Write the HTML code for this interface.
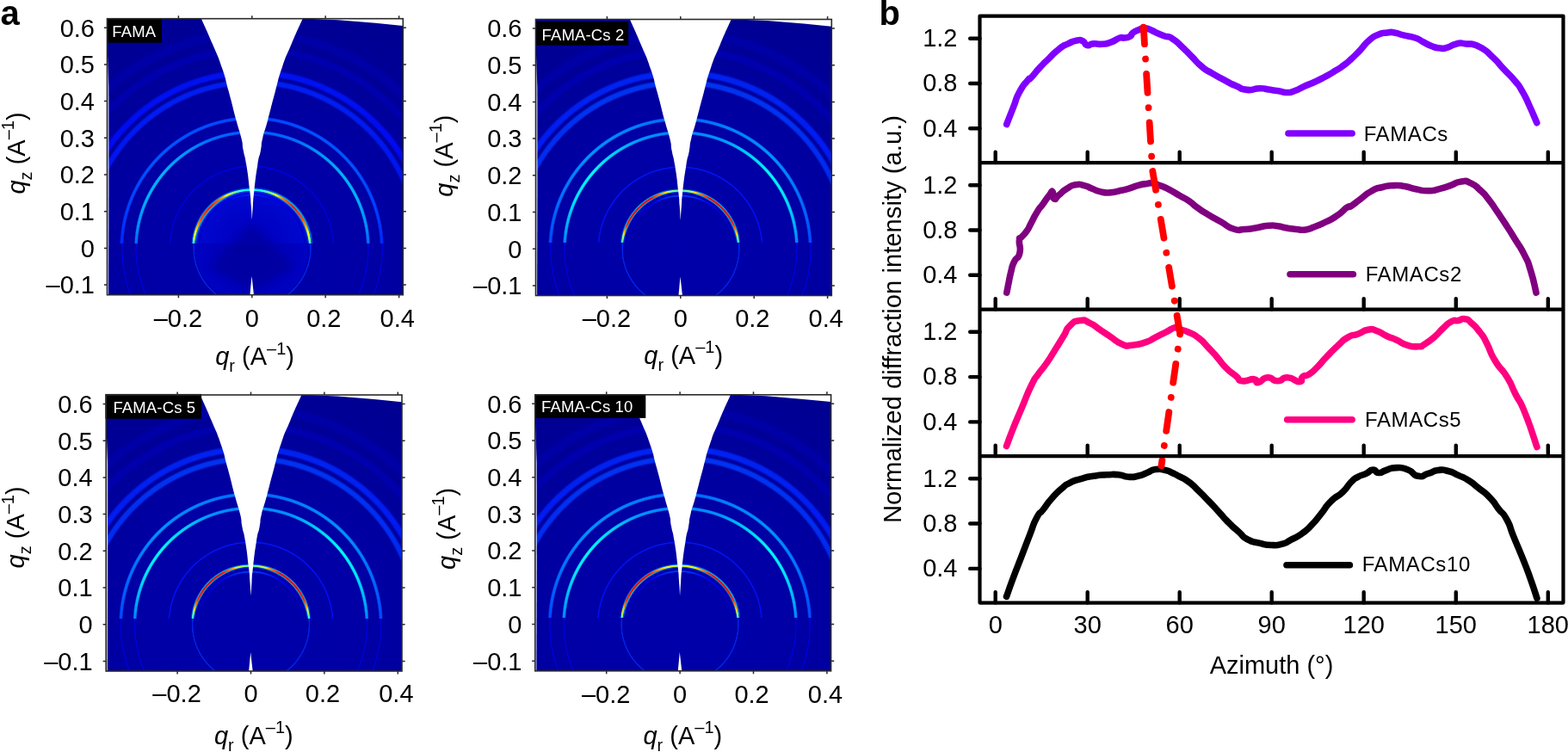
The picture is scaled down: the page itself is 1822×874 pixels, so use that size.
<!DOCTYPE html><html><head><meta charset="utf-8"><title>GIWAXS figure</title><style>html,body{margin:0;padding:0;background:#fff}body{width:1822px;height:874px;position:relative;overflow:hidden;font-family:"Liberation Sans", Arial, Helvetica, sans-serif}svg text{font-family:"Liberation Sans", Arial, Helvetica, sans-serif}</style></head><body>
<div style="position:absolute;left:124.50px;top:21.70px;width:343.80px;height:321.00px;overflow:hidden;background:radial-gradient(circle at 168.30px 266.70px,#0000aa 0px,#0000a6 120px,#00009f 190px,#000097 250px,#00008f 320px)">
<div style="position:absolute;left:0;top:0;width:343.80px;height:261.50px;overflow:hidden">
<div style="position:absolute;left:96.30px;top:194.70px;width:144.00px;height:144.00px;border-radius:50%;background:radial-gradient(circle at center,#0000bc 0px,#0002c4 30px,#0006cc 55px,#0008d0 64px,rgba(0,8,200,0) 68px)"></div>
<div style="position:absolute;left:-89.99px;top:8.41px;width:516.59px;height:516.59px;background:conic-gradient(from 0deg,#0000b3 0deg,#0000b3 5deg,#0000b3 10deg,#0000b3 15deg,#0000b3 20deg,#0000b3 25deg,#0000b3 30deg,#0000b2 35deg,#0000b1 40deg,#0000b0 45deg,#0000af 50deg,#0000ae 55deg,#0000ad 60deg,#0000ab 65deg,#0000a8 70deg,#0000a6 75deg,#0000a3 80deg,#0000a1 85deg,#00009e 90deg,#00009e 180deg,#00009e 270deg,#0000a1 275deg,#0000a3 280deg,#0000a6 285deg,#0000a8 290deg,#0000ab 295deg,#0000ad 300deg,#0000ae 305deg,#0000af 310deg,#0000b0 315deg,#0000b1 320deg,#0000b2 325deg,#0000b3 330deg,#0000b3 335deg,#0000b3 340deg,#0000b3 345deg,#0000b3 350deg,#0000b3 355deg,#0000b3 360deg);-webkit-mask-image:radial-gradient(circle at center, transparent 243.29px, #000 247.19px, #000 252.39px, transparent 256.29px);mask-image:radial-gradient(circle at center, transparent 243.29px, #000 247.19px, #000 252.39px, transparent 256.29px);opacity:0.60"></div>
<div style="position:absolute;left:-69.78px;top:28.62px;width:476.16px;height:476.16px;background:conic-gradient(from 0deg,#0000bd 0deg,#0000bd 5deg,#0000bd 10deg,#0000bd 15deg,#0000bd 20deg,#0000bd 25deg,#0000bd 30deg,#0000bc 35deg,#0000bb 40deg,#0000ba 45deg,#0000b9 50deg,#0000b8 55deg,#0000b8 60deg,#0000b5 65deg,#0000b3 70deg,#0000b0 75deg,#0000ad 80deg,#0000ab 85deg,#0000a8 90deg,#0000a8 180deg,#0000a8 270deg,#0000ab 275deg,#0000ad 280deg,#0000b0 285deg,#0000b3 290deg,#0000b5 295deg,#0000b8 300deg,#0000b8 305deg,#0000b9 310deg,#0000ba 315deg,#0000bb 320deg,#0000bc 325deg,#0000bd 330deg,#0000bd 335deg,#0000bd 340deg,#0000bd 345deg,#0000bd 350deg,#0000bd 355deg,#0000bd 360deg);-webkit-mask-image:radial-gradient(circle at center, transparent 225.08px, #000 228.33px, #000 232.83px, transparent 236.08px);mask-image:radial-gradient(circle at center, transparent 225.08px, #000 228.33px, #000 232.83px, transparent 236.08px);opacity:0.60"></div>
<div style="position:absolute;left:-42.51px;top:55.89px;width:421.61px;height:421.61px;background:conic-gradient(from 0deg,#0014ff 0deg,#0014ff 5deg,#0014ff 10deg,#0014ff 15deg,#0014ff 20deg,#0014ff 25deg,#0014ff 30deg,#0013ff 35deg,#0011ff 40deg,#000fff 45deg,#000eff 50deg,#000cff 55deg,#000aff 60deg,#0006ff 65deg,#0002ff 70deg,#0000fc 75deg,#0000f8 80deg,#0000f4 85deg,#0000f0 90deg,#0000f0 180deg,#0000f0 270deg,#0000f4 275deg,#0000f8 280deg,#0000fc 285deg,#0002ff 290deg,#0006ff 295deg,#000aff 300deg,#000cff 305deg,#000eff 310deg,#000fff 315deg,#0011ff 320deg,#0013ff 325deg,#0014ff 330deg,#0014ff 335deg,#0014ff 340deg,#0014ff 345deg,#0014ff 350deg,#0014ff 355deg,#0014ff 360deg);-webkit-mask-image:radial-gradient(circle at center, transparent 199.41px, #000 202.01px, #000 206.21px, transparent 208.81px);mask-image:radial-gradient(circle at center, transparent 199.41px, #000 202.01px, #000 206.21px, transparent 208.81px);opacity:0.85"></div>
<div style="position:absolute;left:-30.90px;top:67.50px;width:398.41px;height:398.41px;background:conic-gradient(from 0deg,#0024ff 0deg,#0024ff 5deg,#0024ff 10deg,#0024ff 15deg,#0024ff 20deg,#0024ff 25deg,#0024ff 30deg,#0022ff 35deg,#0020ff 40deg,#001fff 45deg,#001dff 50deg,#001bff 55deg,#001aff 60deg,#0016ff 65deg,#0013ff 70deg,#000fff 75deg,#000cff 80deg,#0008ff 85deg,#0005ff 90deg,#0005ff 180deg,#0005ff 270deg,#0008ff 275deg,#000cff 280deg,#000fff 285deg,#0013ff 290deg,#0016ff 295deg,#001aff 300deg,#001bff 305deg,#001dff 310deg,#001fff 315deg,#0020ff 320deg,#0022ff 325deg,#0024ff 330deg,#0024ff 335deg,#0024ff 340deg,#0024ff 345deg,#0024ff 350deg,#0024ff 355deg,#0024ff 360deg);-webkit-mask-image:radial-gradient(circle at center, transparent 188.80px, #000 191.14px, #000 194.86px, transparent 197.20px);mask-image:radial-gradient(circle at center, transparent 188.80px, #000 191.14px, #000 194.86px, transparent 197.20px);opacity:0.85"></div>
<div style="position:absolute;left:12.64px;top:111.04px;width:311.32px;height:311.32px;background:conic-gradient(from 0deg,#0042ff 0deg,#0045ff 5deg,#0047ff 10deg,#004aff 15deg,#004dff 20deg,#004fff 25deg,#0051ff 30deg,#0053ff 35deg,#0055ff 40deg,#0057ff 45deg,#0053ff 50deg,#004fff 55deg,#004aff 60deg,#0046ff 65deg,#0042ff 70deg,#003bff 75deg,#0033ff 80deg,#002bff 85deg,#0024ff 90deg,#0024ff 180deg,#0024ff 270deg,#002bff 275deg,#0033ff 280deg,#003bff 285deg,#0042ff 290deg,#0046ff 295deg,#004aff 300deg,#004fff 305deg,#0053ff 310deg,#0057ff 315deg,#0055ff 320deg,#0053ff 325deg,#0051ff 330deg,#004fff 335deg,#004dff 340deg,#004aff 345deg,#0047ff 350deg,#0045ff 355deg,#0042ff 360deg);-webkit-mask-image:radial-gradient(circle at center, transparent 148.66px, #000 150.09px, #000 152.23px, transparent 153.66px);mask-image:radial-gradient(circle at center, transparent 148.66px, #000 150.09px, #000 152.23px, transparent 153.66px);opacity:1.00"></div>
<div style="position:absolute;left:29.02px;top:127.42px;width:278.56px;height:278.56px;background:conic-gradient(from 0deg,#0057ff 0deg,#005cff 5deg,#0061ff 10deg,#0066ff 15deg,#006bff 20deg,#0079ff 25deg,#0086ff 30deg,#0094ff 35deg,#009eff 40deg,#00a8ff 45deg,#00b3ff 50deg,#00b3ff 55deg,#00b3ff 60deg,#00b3ff 65deg,#00a5ff 70deg,#0097ff 75deg,#008aff 80deg,#0075ff 85deg,#0061ff 90deg,#0061ff 180deg,#0061ff 270deg,#0075ff 275deg,#008aff 280deg,#0097ff 285deg,#00a5ff 290deg,#00b3ff 295deg,#00b3ff 300deg,#00b3ff 305deg,#00b3ff 310deg,#00a8ff 315deg,#009eff 320deg,#0094ff 325deg,#0086ff 330deg,#0079ff 335deg,#006bff 340deg,#0066ff 345deg,#0061ff 350deg,#005cff 355deg,#0057ff 360deg);-webkit-mask-image:radial-gradient(circle at center, transparent 132.58px, #000 133.88px, #000 135.98px, transparent 137.28px);mask-image:radial-gradient(circle at center, transparent 132.58px, #000 133.88px, #000 135.98px, transparent 137.28px);opacity:1.00"></div>
<div style="position:absolute;left:69.93px;top:168.33px;width:196.74px;height:196.74px;background:conic-gradient(from 0deg,#0000fa 0deg,#0000f9 5deg,#0000f8 10deg,#0000f7 15deg,#0000f5 20deg,#0000f4 25deg,#0000f3 30deg,#0000f2 35deg,#0000f1 40deg,#0000f0 45deg,#0000ef 50deg,#0000ed 55deg,#0000ec 60deg,#0000eb 65deg,#0000ea 70deg,#0000e9 75deg,#0000e8 80deg,#0000e7 85deg,#0000e6 90deg,#0000e6 180deg,#0000e6 270deg,#0000e7 275deg,#0000e8 280deg,#0000e9 285deg,#0000ea 290deg,#0000eb 295deg,#0000ec 300deg,#0000ed 305deg,#0000ef 310deg,#0000f0 315deg,#0000f1 320deg,#0000f2 325deg,#0000f3 330deg,#0000f4 335deg,#0000f5 340deg,#0000f7 345deg,#0000f8 350deg,#0000f9 355deg,#0000fa 360deg);-webkit-mask-image:radial-gradient(circle at center, transparent 94.07px, #000 94.85px, #000 95.59px, transparent 96.37px);mask-image:radial-gradient(circle at center, transparent 94.07px, #000 94.85px, #000 95.59px, transparent 96.37px);opacity:0.75"></div>
<div style="position:absolute;left:103.41px;top:201.81px;width:129.78px;height:129.78px;background:conic-gradient(from 0deg,#0024ff 0deg,#001cff 5deg,#0014ff 10deg,#000dff 15deg,#0005ff 20deg,#0000fc 25deg,#0000f3 30deg,#0000eb 35deg,#0000e2 40deg,#0000da 45deg,#0000d1 50deg,#0000cf 55deg,#0000cc 60deg,#0000c9 65deg,#0000c7 70deg,#0000c4 75deg,#0000c2 80deg,#0000bf 85deg,#0000bd 90deg,#0000bd 180deg,#0000bd 270deg,#0000bf 275deg,#0000c2 280deg,#0000c4 285deg,#0000c7 290deg,#0000c9 295deg,#0000cc 300deg,#0000cf 305deg,#0000d1 310deg,#0000da 315deg,#0000e2 320deg,#0000eb 325deg,#0000f3 330deg,#0000fc 335deg,#0005ff 340deg,#000dff 345deg,#0014ff 350deg,#001cff 355deg,#0024ff 360deg);-webkit-mask-image:radial-gradient(circle at center, transparent 60.09px, #000 61.00px, #000 61.98px, transparent 62.89px);mask-image:radial-gradient(circle at center, transparent 60.09px, #000 61.00px, #000 61.98px, transparent 62.89px);opacity:0.90"></div>
<div style="position:absolute;left:95.01px;top:193.41px;width:146.59px;height:146.59px;background:conic-gradient(from 0deg,#0045ff 0deg,#004dff 5deg,#0056ff 10deg,#0068ff 15deg,#0080ff 20deg,#009fff 25deg,#00c2ff 30deg,#00d7ff 35deg,#00e3ff 40deg,#00efff 45deg,#00e9ff 50deg,#00e3ff 55deg,#00ddff 60deg,#00c9ff 65deg,#00b4ff 70deg,#009dff 75deg,#0087ff 80deg,#0061ff 85deg,#0045ff 90deg,#0045ff 180deg,#0045ff 270deg,#0061ff 275deg,#0087ff 280deg,#009dff 285deg,#00b4ff 290deg,#00c9ff 295deg,#00ddff 300deg,#00e3ff 305deg,#00e9ff 310deg,#00efff 315deg,#00e3ff 320deg,#00d7ff 325deg,#00c2ff 330deg,#009fff 335deg,#0080ff 340deg,#0068ff 345deg,#0056ff 350deg,#004dff 355deg,#0045ff 360deg);-webkit-mask-image:radial-gradient(circle at center, transparent 64.49px, #000 66.18px, #000 69.60px, transparent 71.29px);mask-image:radial-gradient(circle at center, transparent 64.49px, #000 66.18px, #000 69.60px, transparent 71.29px);opacity:0.75"></div>
<div style="position:absolute;left:96.81px;top:195.21px;width:142.99px;height:142.99px;background:conic-gradient(from 0deg,#00f0ff 0deg,#0afff5 5deg,#24ffdb 10deg,#59ffa6 15deg,#a0ff5f 20deg,#faff05 25deg,#ff9e00 30deg,#ff6000 35deg,#ff3d00 40deg,#ff1a00 45deg,#ff2a00 50deg,#ff3c00 55deg,#ff4c00 60deg,#ff8a00 65deg,#ffc700 70deg,#f5ff0a 75deg,#b3ff4c 80deg,#44ffbb 85deg,#00f0ff 90deg,#00f0ff 180deg,#00f0ff 270deg,#44ffbb 275deg,#b3ff4c 280deg,#f5ff0a 285deg,#ffc700 290deg,#ff8a00 295deg,#ff4c00 300deg,#ff3c00 305deg,#ff2a00 310deg,#ff1a00 315deg,#ff3d00 320deg,#ff6000 325deg,#ff9e00 330deg,#faff05 335deg,#a0ff5f 340deg,#59ffa6 345deg,#24ffdb 350deg,#0afff5 355deg,#00f0ff 360deg);-webkit-mask-image:radial-gradient(circle at center, transparent 66.29px, #000 67.07px, #000 68.71px, transparent 69.49px);mask-image:radial-gradient(circle at center, transparent 66.29px, #000 67.07px, #000 68.71px, transparent 69.49px);opacity:1.00"></div>
</div>
<div style="position:absolute;left:0;top:261.50px;width:343.80px;height:59.50px;overflow:hidden">
<div style="position:absolute;left:96.30px;top:-66.80px;width:144.00px;height:144.00px;border-radius:50%;background:radial-gradient(circle at center,#0000b6 0px,#0000ba 40px,#0002c2 64px,rgba(0,0,190,0) 68px)"></div>
<div style="position:absolute;left:97.41px;top:-65.69px;width:141.79px;height:141.79px;background:#002eff;-webkit-mask-image:radial-gradient(circle at center, transparent 66.89px, #000 67.54px, #000 68.24px, transparent 68.89px);mask-image:radial-gradient(circle at center, transparent 66.89px, #000 67.54px, #000 68.24px, transparent 68.89px);opacity:0.80"></div>
<div style="position:absolute;left:30.42px;top:-132.68px;width:275.76px;height:275.76px;background:#0000fa;-webkit-mask-image:radial-gradient(circle at center, transparent 133.98px, #000 134.63px, #000 135.23px, transparent 135.88px);mask-image:radial-gradient(circle at center, transparent 133.98px, #000 134.63px, #000 135.23px, transparent 135.88px);opacity:0.70"></div>
<div style="position:absolute;left:14.19px;top:-148.91px;width:308.22px;height:308.22px;background:#0000fa;-webkit-mask-image:radial-gradient(circle at center, transparent 150.21px, #000 150.86px, #000 151.46px, transparent 152.11px);mask-image:radial-gradient(circle at center, transparent 150.21px, #000 150.86px, #000 151.46px, transparent 152.11px);opacity:0.70"></div>
</div>
</div>
<div style="position:absolute;left:622.50px;top:22.50px;width:343.80px;height:321.00px;overflow:hidden;background:radial-gradient(circle at 168.30px 266.70px,#0000aa 0px,#0000a6 120px,#00009f 190px,#000097 250px,#00008f 320px)">
<div style="position:absolute;left:0;top:0;width:343.80px;height:259.70px;overflow:hidden">
<div style="position:absolute;left:-89.99px;top:8.41px;width:516.59px;height:516.59px;background:conic-gradient(from 0deg,#0000b3 0deg,#0000b3 5deg,#0000b3 10deg,#0000b3 15deg,#0000b3 20deg,#0000b3 25deg,#0000b3 30deg,#0000b2 35deg,#0000b1 40deg,#0000b0 45deg,#0000af 50deg,#0000ae 55deg,#0000ad 60deg,#0000ab 65deg,#0000a8 70deg,#0000a6 75deg,#0000a3 80deg,#0000a1 85deg,#00009e 90deg,#00009e 180deg,#00009e 270deg,#0000a1 275deg,#0000a3 280deg,#0000a6 285deg,#0000a8 290deg,#0000ab 295deg,#0000ad 300deg,#0000ae 305deg,#0000af 310deg,#0000b0 315deg,#0000b1 320deg,#0000b2 325deg,#0000b3 330deg,#0000b3 335deg,#0000b3 340deg,#0000b3 345deg,#0000b3 350deg,#0000b3 355deg,#0000b3 360deg);-webkit-mask-image:radial-gradient(circle at center, transparent 243.29px, #000 247.19px, #000 252.39px, transparent 256.29px);mask-image:radial-gradient(circle at center, transparent 243.29px, #000 247.19px, #000 252.39px, transparent 256.29px);opacity:0.60"></div>
<div style="position:absolute;left:-69.78px;top:28.62px;width:476.16px;height:476.16px;background:conic-gradient(from 0deg,#0000bd 0deg,#0000bd 5deg,#0000bd 10deg,#0000bd 15deg,#0000bd 20deg,#0000bd 25deg,#0000bd 30deg,#0000bc 35deg,#0000bb 40deg,#0000ba 45deg,#0000b9 50deg,#0000b8 55deg,#0000b8 60deg,#0000b5 65deg,#0000b3 70deg,#0000b0 75deg,#0000ad 80deg,#0000ab 85deg,#0000a8 90deg,#0000a8 180deg,#0000a8 270deg,#0000ab 275deg,#0000ad 280deg,#0000b0 285deg,#0000b3 290deg,#0000b5 295deg,#0000b8 300deg,#0000b8 305deg,#0000b9 310deg,#0000ba 315deg,#0000bb 320deg,#0000bc 325deg,#0000bd 330deg,#0000bd 335deg,#0000bd 340deg,#0000bd 345deg,#0000bd 350deg,#0000bd 355deg,#0000bd 360deg);-webkit-mask-image:radial-gradient(circle at center, transparent 225.08px, #000 228.33px, #000 232.83px, transparent 236.08px);mask-image:radial-gradient(circle at center, transparent 225.08px, #000 228.33px, #000 232.83px, transparent 236.08px);opacity:0.60"></div>
<div style="position:absolute;left:-42.51px;top:55.89px;width:421.61px;height:421.61px;background:conic-gradient(from 0deg,#0029ff 0deg,#0029ff 5deg,#0029ff 10deg,#0029ff 15deg,#0029ff 20deg,#0029ff 25deg,#0029ff 30deg,#0027ff 35deg,#0025ff 40deg,#0024ff 45deg,#0022ff 50deg,#0020ff 55deg,#001fff 60deg,#001aff 65deg,#0016ff 70deg,#0012ff 75deg,#000eff 80deg,#0009ff 85deg,#0005ff 90deg,#0005ff 180deg,#0005ff 270deg,#0009ff 275deg,#000eff 280deg,#0012ff 285deg,#0016ff 290deg,#001aff 295deg,#001fff 300deg,#0020ff 305deg,#0022ff 310deg,#0024ff 315deg,#0025ff 320deg,#0027ff 325deg,#0029ff 330deg,#0029ff 335deg,#0029ff 340deg,#0029ff 345deg,#0029ff 350deg,#0029ff 355deg,#0029ff 360deg);-webkit-mask-image:radial-gradient(circle at center, transparent 199.41px, #000 202.01px, #000 206.21px, transparent 208.81px);mask-image:radial-gradient(circle at center, transparent 199.41px, #000 202.01px, #000 206.21px, transparent 208.81px);opacity:0.85"></div>
<div style="position:absolute;left:-30.90px;top:67.50px;width:398.41px;height:398.41px;background:conic-gradient(from 0deg,#003dff 0deg,#003dff 5deg,#003dff 10deg,#003dff 15deg,#003dff 20deg,#003dff 25deg,#003dff 30deg,#003cff 35deg,#003aff 40deg,#0038ff 45deg,#0036ff 50deg,#0035ff 55deg,#0033ff 60deg,#002fff 65deg,#002aff 70deg,#0026ff 75deg,#0022ff 80deg,#001eff 85deg,#001aff 90deg,#001aff 180deg,#001aff 270deg,#001eff 275deg,#0022ff 280deg,#0026ff 285deg,#002aff 290deg,#002fff 295deg,#0033ff 300deg,#0035ff 305deg,#0036ff 310deg,#0038ff 315deg,#003aff 320deg,#003cff 325deg,#003dff 330deg,#003dff 335deg,#003dff 340deg,#003dff 345deg,#003dff 350deg,#003dff 355deg,#003dff 360deg);-webkit-mask-image:radial-gradient(circle at center, transparent 188.80px, #000 191.14px, #000 194.86px, transparent 197.20px);mask-image:radial-gradient(circle at center, transparent 188.80px, #000 191.14px, #000 194.86px, transparent 197.20px);opacity:0.85"></div>
<div style="position:absolute;left:12.64px;top:111.04px;width:311.32px;height:311.32px;background:conic-gradient(from 0deg,#0061ff 0deg,#0069ff 5deg,#0070ff 10deg,#0078ff 15deg,#0080ff 20deg,#0084ff 25deg,#0088ff 30deg,#008cff 35deg,#0090ff 40deg,#0094ff 45deg,#008cff 50deg,#0084ff 55deg,#007bff 60deg,#0073ff 65deg,#006bff 70deg,#0061ff 75deg,#0057ff 80deg,#004dff 85deg,#0042ff 90deg,#0042ff 180deg,#0042ff 270deg,#004dff 275deg,#0057ff 280deg,#0061ff 285deg,#006bff 290deg,#0073ff 295deg,#007bff 300deg,#0084ff 305deg,#008cff 310deg,#0094ff 315deg,#0090ff 320deg,#008cff 325deg,#0088ff 330deg,#0084ff 335deg,#0080ff 340deg,#0078ff 345deg,#0070ff 350deg,#0069ff 355deg,#0061ff 360deg);-webkit-mask-image:radial-gradient(circle at center, transparent 148.66px, #000 150.09px, #000 152.23px, transparent 153.66px);mask-image:radial-gradient(circle at center, transparent 148.66px, #000 150.09px, #000 152.23px, transparent 153.66px);opacity:1.00"></div>
<div style="position:absolute;left:29.02px;top:127.42px;width:278.56px;height:278.56px;background:conic-gradient(from 0deg,#0080ff 0deg,#0085ff 5deg,#008aff 10deg,#008fff 15deg,#0094ff 20deg,#00a8ff 25deg,#00bdff 30deg,#00d1ff 35deg,#00dfff 40deg,#00ecff 45deg,#00faff 50deg,#00f3ff 55deg,#00ecff 60deg,#00e5ff 65deg,#00d1ff 70deg,#00bdff 75deg,#00a8ff 80deg,#008fff 85deg,#0075ff 90deg,#0075ff 180deg,#0075ff 270deg,#008fff 275deg,#00a8ff 280deg,#00bdff 285deg,#00d1ff 290deg,#00e5ff 295deg,#00ecff 300deg,#00f3ff 305deg,#00faff 310deg,#00ecff 315deg,#00dfff 320deg,#00d1ff 325deg,#00bdff 330deg,#00a8ff 335deg,#0094ff 340deg,#008fff 345deg,#008aff 350deg,#0085ff 355deg,#0080ff 360deg);-webkit-mask-image:radial-gradient(circle at center, transparent 132.58px, #000 133.88px, #000 135.98px, transparent 137.28px);mask-image:radial-gradient(circle at center, transparent 132.58px, #000 133.88px, #000 135.98px, transparent 137.28px);opacity:1.00"></div>
<div style="position:absolute;left:69.93px;top:168.33px;width:196.74px;height:196.74px;background:conic-gradient(from 0deg,#001aff 0deg,#0019ff 5deg,#0018ff 10deg,#0018ff 15deg,#0017ff 20deg,#0017ff 25deg,#0016ff 30deg,#0016ff 35deg,#0015ff 40deg,#0014ff 45deg,#0014ff 50deg,#0013ff 55deg,#0013ff 60deg,#0012ff 65deg,#0012ff 70deg,#0011ff 75deg,#0010ff 80deg,#0010ff 85deg,#000fff 90deg,#000fff 180deg,#000fff 270deg,#0010ff 275deg,#0010ff 280deg,#0011ff 285deg,#0012ff 290deg,#0012ff 295deg,#0013ff 300deg,#0013ff 305deg,#0014ff 310deg,#0014ff 315deg,#0015ff 320deg,#0016ff 325deg,#0016ff 330deg,#0017ff 335deg,#0017ff 340deg,#0018ff 345deg,#0018ff 350deg,#0019ff 355deg,#001aff 360deg);-webkit-mask-image:radial-gradient(circle at center, transparent 94.07px, #000 94.85px, #000 95.59px, transparent 96.37px);mask-image:radial-gradient(circle at center, transparent 94.07px, #000 94.85px, #000 95.59px, transparent 96.37px);opacity:0.90"></div>
<div style="position:absolute;left:103.41px;top:201.81px;width:129.78px;height:129.78px;background:conic-gradient(from 0deg,#0042ff 0deg,#003cff 5deg,#0035ff 10deg,#002eff 15deg,#0020ff 20deg,#0013ff 25deg,#0005ff 30deg,#0000f7 35deg,#0000eb 40deg,#0000de 45deg,#0000d1 50deg,#0000cd 55deg,#0000c9 60deg,#0000c6 65deg,#0000c2 70deg,#0000be 75deg,#0000ba 80deg,#0000b6 85deg,#0000b3 90deg,#0000b3 180deg,#0000b3 270deg,#0000b6 275deg,#0000ba 280deg,#0000be 285deg,#0000c2 290deg,#0000c6 295deg,#0000c9 300deg,#0000cd 305deg,#0000d1 310deg,#0000de 315deg,#0000eb 320deg,#0000f7 325deg,#0005ff 330deg,#0013ff 335deg,#0020ff 340deg,#002eff 345deg,#0035ff 350deg,#003cff 355deg,#0042ff 360deg);-webkit-mask-image:radial-gradient(circle at center, transparent 60.09px, #000 61.00px, #000 61.98px, transparent 62.89px);mask-image:radial-gradient(circle at center, transparent 60.09px, #000 61.00px, #000 61.98px, transparent 62.89px);opacity:0.90"></div>
<div style="position:absolute;left:95.71px;top:194.11px;width:145.19px;height:145.19px;background:conic-gradient(from 0deg,#005aff 0deg,#0070ff 5deg,#0087ff 10deg,#00abff 15deg,#00caff 20deg,#00e0ff 25deg,#00f6ff 30deg,#00f8ff 35deg,#00faff 40deg,#00fdff 45deg,#00f8ff 50deg,#00f4ff 55deg,#00f0ff 60deg,#00ebff 65deg,#00ccff 70deg,#00a9ff 75deg,#0075ff 80deg,#0049ff 85deg,#003eff 90deg,#003eff 180deg,#003eff 270deg,#0049ff 275deg,#0075ff 280deg,#00a9ff 285deg,#00ccff 290deg,#00ebff 295deg,#00f0ff 300deg,#00f4ff 305deg,#00f8ff 310deg,#00fdff 315deg,#00faff 320deg,#00f8ff 325deg,#00f6ff 330deg,#00e0ff 335deg,#00caff 340deg,#00abff 345deg,#0087ff 350deg,#0070ff 355deg,#005aff 360deg);-webkit-mask-image:radial-gradient(circle at center, transparent 65.19px, #000 66.49px, #000 69.29px, transparent 70.59px);mask-image:radial-gradient(circle at center, transparent 65.19px, #000 66.49px, #000 69.29px, transparent 70.59px);opacity:0.75"></div>
<div style="position:absolute;left:96.96px;top:195.36px;width:142.69px;height:142.69px;background:conic-gradient(from 0deg,#2effd1 0deg,#70ff8f 5deg,#b3ff4c 10deg,#ffdf00 15deg,#ff8500 20deg,#ff4500 25deg,#ff0500 30deg,#fd0000 35deg,#f70000 40deg,#f00000 45deg,#fc0000 50deg,#ff0a00 55deg,#ff1700 60deg,#ff2400 65deg,#ff7e00 70deg,#ffe500 75deg,#80ff80 80deg,#00fdff 85deg,#00dbff 90deg,#00dbff 180deg,#00dbff 270deg,#00fdff 275deg,#80ff80 280deg,#ffe500 285deg,#ff7e00 290deg,#ff2400 295deg,#ff1700 300deg,#ff0a00 305deg,#fc0000 310deg,#f00000 315deg,#f70000 320deg,#fd0000 325deg,#ff0500 330deg,#ff4500 335deg,#ff8500 340deg,#ffdf00 345deg,#b3ff4c 350deg,#70ff8f 355deg,#2effd1 360deg);-webkit-mask-image:radial-gradient(circle at center, transparent 66.44px, #000 67.22px, #000 68.56px, transparent 69.34px);mask-image:radial-gradient(circle at center, transparent 66.44px, #000 67.22px, #000 68.56px, transparent 69.34px);opacity:1.00"></div>
</div>
<div style="position:absolute;left:0;top:259.70px;width:343.80px;height:61.30px;overflow:hidden">
<div style="position:absolute;left:97.41px;top:-63.89px;width:141.79px;height:141.79px;background:#002eff;-webkit-mask-image:radial-gradient(circle at center, transparent 66.89px, #000 67.54px, #000 68.24px, transparent 68.89px);mask-image:radial-gradient(circle at center, transparent 66.89px, #000 67.54px, #000 68.24px, transparent 68.89px);opacity:0.80"></div>
<div style="position:absolute;left:30.42px;top:-130.88px;width:275.76px;height:275.76px;background:#0000fa;-webkit-mask-image:radial-gradient(circle at center, transparent 133.98px, #000 134.63px, #000 135.23px, transparent 135.88px);mask-image:radial-gradient(circle at center, transparent 133.98px, #000 134.63px, #000 135.23px, transparent 135.88px);opacity:0.70"></div>
<div style="position:absolute;left:14.19px;top:-147.11px;width:308.22px;height:308.22px;background:#0000fa;-webkit-mask-image:radial-gradient(circle at center, transparent 150.21px, #000 150.86px, #000 151.46px, transparent 152.11px);mask-image:radial-gradient(circle at center, transparent 150.21px, #000 150.86px, #000 151.46px, transparent 152.11px);opacity:0.70"></div>
</div>
</div>
<div style="position:absolute;left:123.20px;top:459.00px;width:343.80px;height:321.00px;overflow:hidden;background:radial-gradient(circle at 168.30px 266.70px,#0000aa 0px,#0000a6 120px,#00009f 190px,#000097 250px,#00008f 320px)">
<div style="position:absolute;left:0;top:0;width:343.80px;height:259.70px;overflow:hidden">
<div style="position:absolute;left:-89.99px;top:8.41px;width:516.59px;height:516.59px;background:conic-gradient(from 0deg,#0000b3 0deg,#0000b3 5deg,#0000b3 10deg,#0000b3 15deg,#0000b3 20deg,#0000b3 25deg,#0000b3 30deg,#0000b2 35deg,#0000b1 40deg,#0000b0 45deg,#0000af 50deg,#0000ae 55deg,#0000ad 60deg,#0000ab 65deg,#0000a8 70deg,#0000a6 75deg,#0000a3 80deg,#0000a1 85deg,#00009e 90deg,#00009e 180deg,#00009e 270deg,#0000a1 275deg,#0000a3 280deg,#0000a6 285deg,#0000a8 290deg,#0000ab 295deg,#0000ad 300deg,#0000ae 305deg,#0000af 310deg,#0000b0 315deg,#0000b1 320deg,#0000b2 325deg,#0000b3 330deg,#0000b3 335deg,#0000b3 340deg,#0000b3 345deg,#0000b3 350deg,#0000b3 355deg,#0000b3 360deg);-webkit-mask-image:radial-gradient(circle at center, transparent 243.29px, #000 247.19px, #000 252.39px, transparent 256.29px);mask-image:radial-gradient(circle at center, transparent 243.29px, #000 247.19px, #000 252.39px, transparent 256.29px);opacity:0.60"></div>
<div style="position:absolute;left:-69.78px;top:28.62px;width:476.16px;height:476.16px;background:conic-gradient(from 0deg,#0000bd 0deg,#0000bd 5deg,#0000bd 10deg,#0000bd 15deg,#0000bd 20deg,#0000bd 25deg,#0000bd 30deg,#0000bc 35deg,#0000bb 40deg,#0000ba 45deg,#0000b9 50deg,#0000b8 55deg,#0000b8 60deg,#0000b5 65deg,#0000b3 70deg,#0000b0 75deg,#0000ad 80deg,#0000ab 85deg,#0000a8 90deg,#0000a8 180deg,#0000a8 270deg,#0000ab 275deg,#0000ad 280deg,#0000b0 285deg,#0000b3 290deg,#0000b5 295deg,#0000b8 300deg,#0000b8 305deg,#0000b9 310deg,#0000ba 315deg,#0000bb 320deg,#0000bc 325deg,#0000bd 330deg,#0000bd 335deg,#0000bd 340deg,#0000bd 345deg,#0000bd 350deg,#0000bd 355deg,#0000bd 360deg);-webkit-mask-image:radial-gradient(circle at center, transparent 225.08px, #000 228.33px, #000 232.83px, transparent 236.08px);mask-image:radial-gradient(circle at center, transparent 225.08px, #000 228.33px, #000 232.83px, transparent 236.08px);opacity:0.60"></div>
<div style="position:absolute;left:-42.51px;top:55.89px;width:421.61px;height:421.61px;background:conic-gradient(from 0deg,#0029ff 0deg,#0029ff 5deg,#0029ff 10deg,#0029ff 15deg,#0029ff 20deg,#0029ff 25deg,#0029ff 30deg,#0027ff 35deg,#0025ff 40deg,#0024ff 45deg,#0022ff 50deg,#0020ff 55deg,#001fff 60deg,#001aff 65deg,#0016ff 70deg,#0012ff 75deg,#000eff 80deg,#0009ff 85deg,#0005ff 90deg,#0005ff 180deg,#0005ff 270deg,#0009ff 275deg,#000eff 280deg,#0012ff 285deg,#0016ff 290deg,#001aff 295deg,#001fff 300deg,#0020ff 305deg,#0022ff 310deg,#0024ff 315deg,#0025ff 320deg,#0027ff 325deg,#0029ff 330deg,#0029ff 335deg,#0029ff 340deg,#0029ff 345deg,#0029ff 350deg,#0029ff 355deg,#0029ff 360deg);-webkit-mask-image:radial-gradient(circle at center, transparent 199.41px, #000 202.01px, #000 206.21px, transparent 208.81px);mask-image:radial-gradient(circle at center, transparent 199.41px, #000 202.01px, #000 206.21px, transparent 208.81px);opacity:0.85"></div>
<div style="position:absolute;left:-30.90px;top:67.50px;width:398.41px;height:398.41px;background:conic-gradient(from 0deg,#003dff 0deg,#003dff 5deg,#003dff 10deg,#003dff 15deg,#003dff 20deg,#003dff 25deg,#003dff 30deg,#003cff 35deg,#003aff 40deg,#0038ff 45deg,#0036ff 50deg,#0035ff 55deg,#0033ff 60deg,#002fff 65deg,#002aff 70deg,#0026ff 75deg,#0022ff 80deg,#001eff 85deg,#001aff 90deg,#001aff 180deg,#001aff 270deg,#001eff 275deg,#0022ff 280deg,#0026ff 285deg,#002aff 290deg,#002fff 295deg,#0033ff 300deg,#0035ff 305deg,#0036ff 310deg,#0038ff 315deg,#003aff 320deg,#003cff 325deg,#003dff 330deg,#003dff 335deg,#003dff 340deg,#003dff 345deg,#003dff 350deg,#003dff 355deg,#003dff 360deg);-webkit-mask-image:radial-gradient(circle at center, transparent 188.80px, #000 191.14px, #000 194.86px, transparent 197.20px);mask-image:radial-gradient(circle at center, transparent 188.80px, #000 191.14px, #000 194.86px, transparent 197.20px);opacity:0.85"></div>
<div style="position:absolute;left:12.64px;top:111.04px;width:311.32px;height:311.32px;background:conic-gradient(from 0deg,#0061ff 0deg,#0069ff 5deg,#0070ff 10deg,#0078ff 15deg,#0080ff 20deg,#0084ff 25deg,#0088ff 30deg,#008cff 35deg,#0090ff 40deg,#0094ff 45deg,#008cff 50deg,#0084ff 55deg,#007bff 60deg,#0073ff 65deg,#006bff 70deg,#0061ff 75deg,#0057ff 80deg,#004dff 85deg,#0042ff 90deg,#0042ff 180deg,#0042ff 270deg,#004dff 275deg,#0057ff 280deg,#0061ff 285deg,#006bff 290deg,#0073ff 295deg,#007bff 300deg,#0084ff 305deg,#008cff 310deg,#0094ff 315deg,#0090ff 320deg,#008cff 325deg,#0088ff 330deg,#0084ff 335deg,#0080ff 340deg,#0078ff 345deg,#0070ff 350deg,#0069ff 355deg,#0061ff 360deg);-webkit-mask-image:radial-gradient(circle at center, transparent 148.66px, #000 150.09px, #000 152.23px, transparent 153.66px);mask-image:radial-gradient(circle at center, transparent 148.66px, #000 150.09px, #000 152.23px, transparent 153.66px);opacity:1.00"></div>
<div style="position:absolute;left:29.02px;top:127.42px;width:278.56px;height:278.56px;background:conic-gradient(from 0deg,#0080ff 0deg,#0085ff 5deg,#008aff 10deg,#008fff 15deg,#0094ff 20deg,#00a8ff 25deg,#00bdff 30deg,#00d1ff 35deg,#00dfff 40deg,#00ecff 45deg,#00faff 50deg,#00f3ff 55deg,#00ecff 60deg,#00e5ff 65deg,#00d1ff 70deg,#00bdff 75deg,#00a8ff 80deg,#008fff 85deg,#0075ff 90deg,#0075ff 180deg,#0075ff 270deg,#008fff 275deg,#00a8ff 280deg,#00bdff 285deg,#00d1ff 290deg,#00e5ff 295deg,#00ecff 300deg,#00f3ff 305deg,#00faff 310deg,#00ecff 315deg,#00dfff 320deg,#00d1ff 325deg,#00bdff 330deg,#00a8ff 335deg,#0094ff 340deg,#008fff 345deg,#008aff 350deg,#0085ff 355deg,#0080ff 360deg);-webkit-mask-image:radial-gradient(circle at center, transparent 132.58px, #000 133.88px, #000 135.98px, transparent 137.28px);mask-image:radial-gradient(circle at center, transparent 132.58px, #000 133.88px, #000 135.98px, transparent 137.28px);opacity:1.00"></div>
<div style="position:absolute;left:69.93px;top:168.33px;width:196.74px;height:196.74px;background:conic-gradient(from 0deg,#001aff 0deg,#0019ff 5deg,#0018ff 10deg,#0018ff 15deg,#0017ff 20deg,#0017ff 25deg,#0016ff 30deg,#0016ff 35deg,#0015ff 40deg,#0014ff 45deg,#0014ff 50deg,#0013ff 55deg,#0013ff 60deg,#0012ff 65deg,#0012ff 70deg,#0011ff 75deg,#0010ff 80deg,#0010ff 85deg,#000fff 90deg,#000fff 180deg,#000fff 270deg,#0010ff 275deg,#0010ff 280deg,#0011ff 285deg,#0012ff 290deg,#0012ff 295deg,#0013ff 300deg,#0013ff 305deg,#0014ff 310deg,#0014ff 315deg,#0015ff 320deg,#0016ff 325deg,#0016ff 330deg,#0017ff 335deg,#0017ff 340deg,#0018ff 345deg,#0018ff 350deg,#0019ff 355deg,#001aff 360deg);-webkit-mask-image:radial-gradient(circle at center, transparent 94.07px, #000 94.85px, #000 95.59px, transparent 96.37px);mask-image:radial-gradient(circle at center, transparent 94.07px, #000 94.85px, #000 95.59px, transparent 96.37px);opacity:0.90"></div>
<div style="position:absolute;left:103.41px;top:201.81px;width:129.78px;height:129.78px;background:conic-gradient(from 0deg,#0042ff 0deg,#003cff 5deg,#0035ff 10deg,#002eff 15deg,#0020ff 20deg,#0013ff 25deg,#0005ff 30deg,#0000f7 35deg,#0000eb 40deg,#0000de 45deg,#0000d1 50deg,#0000cd 55deg,#0000c9 60deg,#0000c6 65deg,#0000c2 70deg,#0000be 75deg,#0000ba 80deg,#0000b6 85deg,#0000b3 90deg,#0000b3 180deg,#0000b3 270deg,#0000b6 275deg,#0000ba 280deg,#0000be 285deg,#0000c2 290deg,#0000c6 295deg,#0000c9 300deg,#0000cd 305deg,#0000d1 310deg,#0000de 315deg,#0000eb 320deg,#0000f7 325deg,#0005ff 330deg,#0013ff 335deg,#0020ff 340deg,#002eff 345deg,#0035ff 350deg,#003cff 355deg,#0042ff 360deg);-webkit-mask-image:radial-gradient(circle at center, transparent 60.09px, #000 61.00px, #000 61.98px, transparent 62.89px);mask-image:radial-gradient(circle at center, transparent 60.09px, #000 61.00px, #000 61.98px, transparent 62.89px);opacity:0.90"></div>
<div style="position:absolute;left:95.71px;top:194.11px;width:145.19px;height:145.19px;background:conic-gradient(from 0deg,#005aff 0deg,#0070ff 5deg,#0087ff 10deg,#00abff 15deg,#00caff 20deg,#00e0ff 25deg,#00f6ff 30deg,#00f8ff 35deg,#00faff 40deg,#00fdff 45deg,#00f8ff 50deg,#00f4ff 55deg,#00f0ff 60deg,#00ebff 65deg,#00ccff 70deg,#00a9ff 75deg,#0075ff 80deg,#0049ff 85deg,#003eff 90deg,#003eff 180deg,#003eff 270deg,#0049ff 275deg,#0075ff 280deg,#00a9ff 285deg,#00ccff 290deg,#00ebff 295deg,#00f0ff 300deg,#00f4ff 305deg,#00f8ff 310deg,#00fdff 315deg,#00faff 320deg,#00f8ff 325deg,#00f6ff 330deg,#00e0ff 335deg,#00caff 340deg,#00abff 345deg,#0087ff 350deg,#0070ff 355deg,#005aff 360deg);-webkit-mask-image:radial-gradient(circle at center, transparent 65.19px, #000 66.49px, #000 69.29px, transparent 70.59px);mask-image:radial-gradient(circle at center, transparent 65.19px, #000 66.49px, #000 69.29px, transparent 70.59px);opacity:0.75"></div>
<div style="position:absolute;left:96.96px;top:195.36px;width:142.69px;height:142.69px;background:conic-gradient(from 0deg,#2effd1 0deg,#70ff8f 5deg,#b3ff4c 10deg,#ffdf00 15deg,#ff8500 20deg,#ff4500 25deg,#ff0500 30deg,#fd0000 35deg,#f70000 40deg,#f00000 45deg,#fc0000 50deg,#ff0a00 55deg,#ff1700 60deg,#ff2400 65deg,#ff7e00 70deg,#ffe500 75deg,#80ff80 80deg,#00fdff 85deg,#00dbff 90deg,#00dbff 180deg,#00dbff 270deg,#00fdff 275deg,#80ff80 280deg,#ffe500 285deg,#ff7e00 290deg,#ff2400 295deg,#ff1700 300deg,#ff0a00 305deg,#fc0000 310deg,#f00000 315deg,#f70000 320deg,#fd0000 325deg,#ff0500 330deg,#ff4500 335deg,#ff8500 340deg,#ffdf00 345deg,#b3ff4c 350deg,#70ff8f 355deg,#2effd1 360deg);-webkit-mask-image:radial-gradient(circle at center, transparent 66.44px, #000 67.22px, #000 68.56px, transparent 69.34px);mask-image:radial-gradient(circle at center, transparent 66.44px, #000 67.22px, #000 68.56px, transparent 69.34px);opacity:1.00"></div>
</div>
<div style="position:absolute;left:0;top:259.70px;width:343.80px;height:61.30px;overflow:hidden">
<div style="position:absolute;left:97.41px;top:-63.89px;width:141.79px;height:141.79px;background:#002eff;-webkit-mask-image:radial-gradient(circle at center, transparent 66.89px, #000 67.54px, #000 68.24px, transparent 68.89px);mask-image:radial-gradient(circle at center, transparent 66.89px, #000 67.54px, #000 68.24px, transparent 68.89px);opacity:0.80"></div>
<div style="position:absolute;left:30.42px;top:-130.88px;width:275.76px;height:275.76px;background:#0000fa;-webkit-mask-image:radial-gradient(circle at center, transparent 133.98px, #000 134.63px, #000 135.23px, transparent 135.88px);mask-image:radial-gradient(circle at center, transparent 133.98px, #000 134.63px, #000 135.23px, transparent 135.88px);opacity:0.70"></div>
<div style="position:absolute;left:14.19px;top:-147.11px;width:308.22px;height:308.22px;background:#0000fa;-webkit-mask-image:radial-gradient(circle at center, transparent 150.21px, #000 150.86px, #000 151.46px, transparent 152.11px);mask-image:radial-gradient(circle at center, transparent 150.21px, #000 150.86px, #000 151.46px, transparent 152.11px);opacity:0.70"></div>
</div>
</div>
<div style="position:absolute;left:621.80px;top:458.80px;width:343.80px;height:321.00px;overflow:hidden;background:radial-gradient(circle at 168.30px 266.70px,#0000aa 0px,#0000a6 120px,#00009f 190px,#000097 250px,#00008f 320px)">
<div style="position:absolute;left:0;top:0;width:343.80px;height:259.70px;overflow:hidden">
<div style="position:absolute;left:-89.99px;top:8.41px;width:516.59px;height:516.59px;background:conic-gradient(from 0deg,#0000b3 0deg,#0000b3 5deg,#0000b3 10deg,#0000b3 15deg,#0000b3 20deg,#0000b3 25deg,#0000b3 30deg,#0000b2 35deg,#0000b1 40deg,#0000b0 45deg,#0000af 50deg,#0000ae 55deg,#0000ad 60deg,#0000ab 65deg,#0000a8 70deg,#0000a6 75deg,#0000a3 80deg,#0000a1 85deg,#00009e 90deg,#00009e 180deg,#00009e 270deg,#0000a1 275deg,#0000a3 280deg,#0000a6 285deg,#0000a8 290deg,#0000ab 295deg,#0000ad 300deg,#0000ae 305deg,#0000af 310deg,#0000b0 315deg,#0000b1 320deg,#0000b2 325deg,#0000b3 330deg,#0000b3 335deg,#0000b3 340deg,#0000b3 345deg,#0000b3 350deg,#0000b3 355deg,#0000b3 360deg);-webkit-mask-image:radial-gradient(circle at center, transparent 243.29px, #000 247.19px, #000 252.39px, transparent 256.29px);mask-image:radial-gradient(circle at center, transparent 243.29px, #000 247.19px, #000 252.39px, transparent 256.29px);opacity:0.60"></div>
<div style="position:absolute;left:-69.78px;top:28.62px;width:476.16px;height:476.16px;background:conic-gradient(from 0deg,#0000bd 0deg,#0000bd 5deg,#0000bd 10deg,#0000bd 15deg,#0000bd 20deg,#0000bd 25deg,#0000bd 30deg,#0000bc 35deg,#0000bb 40deg,#0000ba 45deg,#0000b9 50deg,#0000b8 55deg,#0000b8 60deg,#0000b5 65deg,#0000b3 70deg,#0000b0 75deg,#0000ad 80deg,#0000ab 85deg,#0000a8 90deg,#0000a8 180deg,#0000a8 270deg,#0000ab 275deg,#0000ad 280deg,#0000b0 285deg,#0000b3 290deg,#0000b5 295deg,#0000b8 300deg,#0000b8 305deg,#0000b9 310deg,#0000ba 315deg,#0000bb 320deg,#0000bc 325deg,#0000bd 330deg,#0000bd 335deg,#0000bd 340deg,#0000bd 345deg,#0000bd 350deg,#0000bd 355deg,#0000bd 360deg);-webkit-mask-image:radial-gradient(circle at center, transparent 225.08px, #000 228.33px, #000 232.83px, transparent 236.08px);mask-image:radial-gradient(circle at center, transparent 225.08px, #000 228.33px, #000 232.83px, transparent 236.08px);opacity:0.60"></div>
<div style="position:absolute;left:-42.51px;top:55.89px;width:421.61px;height:421.61px;background:conic-gradient(from 0deg,#0029ff 0deg,#0029ff 5deg,#0029ff 10deg,#0029ff 15deg,#0029ff 20deg,#0029ff 25deg,#0029ff 30deg,#0027ff 35deg,#0025ff 40deg,#0024ff 45deg,#0022ff 50deg,#0020ff 55deg,#001fff 60deg,#001aff 65deg,#0016ff 70deg,#0012ff 75deg,#000eff 80deg,#0009ff 85deg,#0005ff 90deg,#0005ff 180deg,#0005ff 270deg,#0009ff 275deg,#000eff 280deg,#0012ff 285deg,#0016ff 290deg,#001aff 295deg,#001fff 300deg,#0020ff 305deg,#0022ff 310deg,#0024ff 315deg,#0025ff 320deg,#0027ff 325deg,#0029ff 330deg,#0029ff 335deg,#0029ff 340deg,#0029ff 345deg,#0029ff 350deg,#0029ff 355deg,#0029ff 360deg);-webkit-mask-image:radial-gradient(circle at center, transparent 199.41px, #000 202.01px, #000 206.21px, transparent 208.81px);mask-image:radial-gradient(circle at center, transparent 199.41px, #000 202.01px, #000 206.21px, transparent 208.81px);opacity:0.85"></div>
<div style="position:absolute;left:-30.90px;top:67.50px;width:398.41px;height:398.41px;background:conic-gradient(from 0deg,#003dff 0deg,#003dff 5deg,#003dff 10deg,#003dff 15deg,#003dff 20deg,#003dff 25deg,#003dff 30deg,#003cff 35deg,#003aff 40deg,#0038ff 45deg,#0036ff 50deg,#0035ff 55deg,#0033ff 60deg,#002fff 65deg,#002aff 70deg,#0026ff 75deg,#0022ff 80deg,#001eff 85deg,#001aff 90deg,#001aff 180deg,#001aff 270deg,#001eff 275deg,#0022ff 280deg,#0026ff 285deg,#002aff 290deg,#002fff 295deg,#0033ff 300deg,#0035ff 305deg,#0036ff 310deg,#0038ff 315deg,#003aff 320deg,#003cff 325deg,#003dff 330deg,#003dff 335deg,#003dff 340deg,#003dff 345deg,#003dff 350deg,#003dff 355deg,#003dff 360deg);-webkit-mask-image:radial-gradient(circle at center, transparent 188.80px, #000 191.14px, #000 194.86px, transparent 197.20px);mask-image:radial-gradient(circle at center, transparent 188.80px, #000 191.14px, #000 194.86px, transparent 197.20px);opacity:0.85"></div>
<div style="position:absolute;left:12.64px;top:111.04px;width:311.32px;height:311.32px;background:conic-gradient(from 0deg,#0061ff 0deg,#0069ff 5deg,#0070ff 10deg,#0078ff 15deg,#0080ff 20deg,#0084ff 25deg,#0088ff 30deg,#008cff 35deg,#0090ff 40deg,#0094ff 45deg,#008cff 50deg,#0084ff 55deg,#007bff 60deg,#0073ff 65deg,#006bff 70deg,#0061ff 75deg,#0057ff 80deg,#004dff 85deg,#0042ff 90deg,#0042ff 180deg,#0042ff 270deg,#004dff 275deg,#0057ff 280deg,#0061ff 285deg,#006bff 290deg,#0073ff 295deg,#007bff 300deg,#0084ff 305deg,#008cff 310deg,#0094ff 315deg,#0090ff 320deg,#008cff 325deg,#0088ff 330deg,#0084ff 335deg,#0080ff 340deg,#0078ff 345deg,#0070ff 350deg,#0069ff 355deg,#0061ff 360deg);-webkit-mask-image:radial-gradient(circle at center, transparent 148.66px, #000 150.09px, #000 152.23px, transparent 153.66px);mask-image:radial-gradient(circle at center, transparent 148.66px, #000 150.09px, #000 152.23px, transparent 153.66px);opacity:1.00"></div>
<div style="position:absolute;left:29.02px;top:127.42px;width:278.56px;height:278.56px;background:conic-gradient(from 0deg,#0080ff 0deg,#0085ff 5deg,#008aff 10deg,#008fff 15deg,#0094ff 20deg,#00a8ff 25deg,#00bdff 30deg,#00d1ff 35deg,#00dfff 40deg,#00ecff 45deg,#00faff 50deg,#00f3ff 55deg,#00ecff 60deg,#00e5ff 65deg,#00d1ff 70deg,#00bdff 75deg,#00a8ff 80deg,#008fff 85deg,#0075ff 90deg,#0075ff 180deg,#0075ff 270deg,#008fff 275deg,#00a8ff 280deg,#00bdff 285deg,#00d1ff 290deg,#00e5ff 295deg,#00ecff 300deg,#00f3ff 305deg,#00faff 310deg,#00ecff 315deg,#00dfff 320deg,#00d1ff 325deg,#00bdff 330deg,#00a8ff 335deg,#0094ff 340deg,#008fff 345deg,#008aff 350deg,#0085ff 355deg,#0080ff 360deg);-webkit-mask-image:radial-gradient(circle at center, transparent 132.58px, #000 133.88px, #000 135.98px, transparent 137.28px);mask-image:radial-gradient(circle at center, transparent 132.58px, #000 133.88px, #000 135.98px, transparent 137.28px);opacity:1.00"></div>
<div style="position:absolute;left:69.93px;top:168.33px;width:196.74px;height:196.74px;background:conic-gradient(from 0deg,#001aff 0deg,#0019ff 5deg,#0018ff 10deg,#0018ff 15deg,#0017ff 20deg,#0017ff 25deg,#0016ff 30deg,#0016ff 35deg,#0015ff 40deg,#0014ff 45deg,#0014ff 50deg,#0013ff 55deg,#0013ff 60deg,#0012ff 65deg,#0012ff 70deg,#0011ff 75deg,#0010ff 80deg,#0010ff 85deg,#000fff 90deg,#000fff 180deg,#000fff 270deg,#0010ff 275deg,#0010ff 280deg,#0011ff 285deg,#0012ff 290deg,#0012ff 295deg,#0013ff 300deg,#0013ff 305deg,#0014ff 310deg,#0014ff 315deg,#0015ff 320deg,#0016ff 325deg,#0016ff 330deg,#0017ff 335deg,#0017ff 340deg,#0018ff 345deg,#0018ff 350deg,#0019ff 355deg,#001aff 360deg);-webkit-mask-image:radial-gradient(circle at center, transparent 94.07px, #000 94.85px, #000 95.59px, transparent 96.37px);mask-image:radial-gradient(circle at center, transparent 94.07px, #000 94.85px, #000 95.59px, transparent 96.37px);opacity:0.90"></div>
<div style="position:absolute;left:103.41px;top:201.81px;width:129.78px;height:129.78px;background:conic-gradient(from 0deg,#0042ff 0deg,#003cff 5deg,#0035ff 10deg,#002eff 15deg,#0020ff 20deg,#0013ff 25deg,#0005ff 30deg,#0000f7 35deg,#0000eb 40deg,#0000de 45deg,#0000d1 50deg,#0000cd 55deg,#0000c9 60deg,#0000c6 65deg,#0000c2 70deg,#0000be 75deg,#0000ba 80deg,#0000b6 85deg,#0000b3 90deg,#0000b3 180deg,#0000b3 270deg,#0000b6 275deg,#0000ba 280deg,#0000be 285deg,#0000c2 290deg,#0000c6 295deg,#0000c9 300deg,#0000cd 305deg,#0000d1 310deg,#0000de 315deg,#0000eb 320deg,#0000f7 325deg,#0005ff 330deg,#0013ff 335deg,#0020ff 340deg,#002eff 345deg,#0035ff 350deg,#003cff 355deg,#0042ff 360deg);-webkit-mask-image:radial-gradient(circle at center, transparent 60.09px, #000 61.00px, #000 61.98px, transparent 62.89px);mask-image:radial-gradient(circle at center, transparent 60.09px, #000 61.00px, #000 61.98px, transparent 62.89px);opacity:0.90"></div>
<div style="position:absolute;left:95.71px;top:194.11px;width:145.19px;height:145.19px;background:conic-gradient(from 0deg,#007cff 0deg,#008aff 5deg,#0098ff 10deg,#00a9ff 15deg,#00bdff 20deg,#00d4ff 25deg,#00ebff 30deg,#00f0ff 35deg,#00f4ff 40deg,#00f9ff 45deg,#00f6ff 50deg,#00f2ff 55deg,#00efff 60deg,#00ebff 65deg,#00d0ff 70deg,#00b2ff 75deg,#0087ff 80deg,#0050ff 85deg,#0045ff 90deg,#0045ff 180deg,#0045ff 270deg,#0050ff 275deg,#0087ff 280deg,#00b2ff 285deg,#00d0ff 290deg,#00ebff 295deg,#00efff 300deg,#00f2ff 305deg,#00f6ff 310deg,#00f9ff 315deg,#00f4ff 320deg,#00f0ff 325deg,#00ebff 330deg,#00d4ff 335deg,#00bdff 340deg,#00a9ff 345deg,#0098ff 350deg,#008aff 355deg,#007cff 360deg);-webkit-mask-image:radial-gradient(circle at center, transparent 65.19px, #000 66.49px, #000 69.29px, transparent 70.59px);mask-image:radial-gradient(circle at center, transparent 65.19px, #000 66.49px, #000 69.29px, transparent 70.59px);opacity:0.75"></div>
<div style="position:absolute;left:96.96px;top:195.36px;width:142.69px;height:142.69px;background:conic-gradient(from 0deg,#94ff6b 0deg,#bdff42 5deg,#e5ff1a 10deg,#ffe500 15deg,#ffac00 20deg,#ff6800 25deg,#ff2400 30deg,#ff1600 35deg,#ff0800 40deg,#fa0000 45deg,#ff0500 50deg,#ff0f00 55deg,#ff1a00 60deg,#ff2400 65deg,#ff7300 70deg,#ffcc00 75deg,#b3ff4c 80deg,#13ffec 85deg,#00f0ff 90deg,#00f0ff 180deg,#00f0ff 270deg,#13ffec 275deg,#b3ff4c 280deg,#ffcc00 285deg,#ff7300 290deg,#ff2400 295deg,#ff1a00 300deg,#ff0f00 305deg,#ff0500 310deg,#fa0000 315deg,#ff0800 320deg,#ff1600 325deg,#ff2400 330deg,#ff6800 335deg,#ffac00 340deg,#ffe500 345deg,#e5ff1a 350deg,#bdff42 355deg,#94ff6b 360deg);-webkit-mask-image:radial-gradient(circle at center, transparent 66.44px, #000 67.22px, #000 68.56px, transparent 69.34px);mask-image:radial-gradient(circle at center, transparent 66.44px, #000 67.22px, #000 68.56px, transparent 69.34px);opacity:1.00"></div>
</div>
<div style="position:absolute;left:0;top:259.70px;width:343.80px;height:61.30px;overflow:hidden">
<div style="position:absolute;left:97.41px;top:-63.89px;width:141.79px;height:141.79px;background:#002eff;-webkit-mask-image:radial-gradient(circle at center, transparent 66.89px, #000 67.54px, #000 68.24px, transparent 68.89px);mask-image:radial-gradient(circle at center, transparent 66.89px, #000 67.54px, #000 68.24px, transparent 68.89px);opacity:0.80"></div>
<div style="position:absolute;left:30.42px;top:-130.88px;width:275.76px;height:275.76px;background:#0000fa;-webkit-mask-image:radial-gradient(circle at center, transparent 133.98px, #000 134.63px, #000 135.23px, transparent 135.88px);mask-image:radial-gradient(circle at center, transparent 133.98px, #000 134.63px, #000 135.23px, transparent 135.88px);opacity:0.70"></div>
<div style="position:absolute;left:14.19px;top:-147.11px;width:308.22px;height:308.22px;background:#0000fa;-webkit-mask-image:radial-gradient(circle at center, transparent 150.21px, #000 150.86px, #000 151.46px, transparent 152.11px);mask-image:radial-gradient(circle at center, transparent 150.21px, #000 150.86px, #000 151.46px, transparent 152.11px);opacity:0.70"></div>
</div>
</div>
<svg width="1822" height="874" viewBox="0 0 1822 874" style="position:absolute;left:0;top:0"><defs><filter id="bl4" x="-50%" y="-50%" width="200%" height="200%"><feGaussianBlur stdDeviation="5"/></filter></defs>
<path d="M292.8,258.4 L342.8,310.4 L292.8,338.4 L242.8,310.4 Z" fill="#000070" opacity="0.3" filter="url(#bl4)"/>
<path d="M233.5,20.9C233.6,21.1 229.3,11.3 233.8,21.5C238.3,31.7 239.0,32.4 247.1,51.6C255.2,70.8 251.8,60.8 258.0,79.1C264.2,97.4 260.3,86.5 265.8,106.6C271.3,126.7 269.6,121.7 274.4,139.5C279.3,157.3 277.5,148.2 280.3,160.0C283.1,171.8 280.8,164.4 282.8,175.0C284.8,185.6 283.8,176.2 286.3,191.7C288.8,207.2 288.4,205.8 290.2,221.4C292.1,237.0 290.8,227.1 291.7,238.4C292.6,249.7 292.4,249.6 292.8,255.2L292.8,255.2C293.2,249.6 293.1,249.7 293.9,238.4C294.8,227.1 293.6,237.0 295.4,221.4C297.2,205.8 296.8,207.2 299.3,191.7C301.8,176.2 300.9,185.6 302.9,175.0C304.9,164.4 302.5,171.8 305.3,160.0C308.1,148.2 306.3,157.3 311.2,139.5C316.0,121.7 314.3,126.7 319.8,106.6C325.3,86.5 321.4,97.4 327.6,79.1C333.8,60.8 330.4,70.8 338.5,51.6C346.6,32.4 347.3,31.7 351.8,21.5C356.3,11.3 352.0,21.1 352.1,20.9Z" fill="#fff"/>
<path d="M292.50,320.80 L295.00,343.20 L290.40,343.20 Z" fill="#fff"/>
<path d="M352.00,20.70 L352.00,21.50 L392.90,23.20 L436.10,26.80 L468.10,29.90 L469.30,29.90 L469.30,20.70 Z" fill="#fff"/>
<path d="M124.50,49.70 L126.40,101.70 L126.50,221.70 L126.10,342.70 L124.50,342.70 Z" fill="#fff" opacity="0.85"/>
<rect x="124.00" y="21.10" width="64.00" height="28.60" fill="#000"/>
<text x="130.30" y="43.10" font-size="18.5" letter-spacing="0.15" fill="#fff">FAMA</text>
<rect x="124.50" y="21.70" width="343.80" height="321.00" fill="none" stroke="#2a2a2a" stroke-width="1.6"/>
<path d="M207.40,21.70v-3.5M207.40,342.70v3.5M292.80,21.70v-3.5M292.80,342.70v3.5M378.20,21.70v-3.5M378.20,342.70v3.5M463.60,21.70v-3.5M463.60,342.70v3.5M124.50,331.10h-3.6M468.30,331.10h3.6M124.50,288.40h-3.6M468.30,288.40h3.6M124.50,245.70h-3.6M468.30,245.70h3.6M124.50,203.00h-3.6M468.30,203.00h3.6M124.50,160.30h-3.6M468.30,160.30h3.6M124.50,117.60h-3.6M468.30,117.60h3.6M124.50,74.90h-3.6M468.30,74.90h3.6M124.50,32.20h-3.6M468.30,32.20h3.6" stroke="#2a2a2a" stroke-width="1.5" fill="none"/>
<text x="206.90" y="379.70" font-size="29" text-anchor="middle">–0.2</text>
<text x="292.80" y="379.70" font-size="29" text-anchor="middle">0</text>
<text x="376.30" y="379.70" font-size="29" text-anchor="middle">0.2</text>
<text x="461.70" y="379.70" font-size="29" text-anchor="middle">0.4</text>
<text x="110.00" y="341.40" font-size="29" text-anchor="end">–0.1</text>
<text x="110.00" y="298.70" font-size="29" text-anchor="end">0</text>
<text x="110.00" y="256.00" font-size="29" text-anchor="end">0.1</text>
<text x="110.00" y="213.30" font-size="29" text-anchor="end">0.2</text>
<text x="110.00" y="170.60" font-size="29" text-anchor="end">0.3</text>
<text x="110.00" y="127.90" font-size="29" text-anchor="end">0.4</text>
<text x="110.00" y="85.20" font-size="29" text-anchor="end">0.5</text>
<text x="110.00" y="42.50" font-size="29" text-anchor="end">0.6</text>
<text x="296.10" y="424.30" font-size="29" text-anchor="middle"><tspan font-style="italic">q</tspan><tspan font-size="20" dy="8">r</tspan><tspan dy="-8"> (A</tspan><tspan font-size="20" dy="-12.6">–1</tspan><tspan dy="12.6">)</tspan></text>
<text transform="translate(29.00,178.00) rotate(-90)" font-size="29" text-anchor="middle"><tspan font-style="italic">q</tspan><tspan font-size="20" dy="8">z</tspan><tspan dy="-8"> (A</tspan><tspan font-size="20" dy="-12.6">–1</tspan><tspan dy="12.6">)</tspan></text>
<path d="M731.5,21.7C731.6,21.9 727.3,12.1 731.8,22.3C736.3,32.5 737.0,33.2 745.1,52.4C753.2,71.6 749.8,61.6 756.0,79.9C762.2,98.2 758.3,87.3 763.8,107.4C769.3,127.5 767.6,122.5 772.4,140.3C777.3,158.1 775.5,149.0 778.3,160.8C781.1,172.6 778.8,165.2 780.8,175.8C782.8,186.4 781.8,177.0 784.3,192.5C786.8,208.0 786.5,206.6 788.2,222.2C790.0,237.8 788.8,227.9 789.7,239.2C790.5,250.5 790.4,250.4 790.8,256.0L790.8,256.0C791.2,250.4 791.0,250.5 791.9,239.2C792.8,227.9 791.5,237.8 793.3,222.2C795.1,206.6 794.8,208.0 797.3,192.5C799.8,177.0 798.8,186.4 800.8,175.8C802.8,165.2 800.5,172.6 803.3,160.8C806.1,149.0 804.3,158.1 809.1,140.3C814.0,122.5 812.3,127.5 817.8,107.4C823.3,87.3 819.4,98.2 825.6,79.9C831.8,61.6 828.4,71.6 836.5,52.4C844.6,33.2 845.3,32.5 849.8,22.3C854.3,12.1 850.0,21.9 850.1,21.7Z" fill="#fff"/>
<path d="M790.50,321.60 L793.00,344.00 L788.40,344.00 Z" fill="#fff"/>
<path d="M850.00,21.50 L850.00,22.30 L890.90,24.00 L934.10,27.60 L966.10,30.70 L967.30,30.70 L967.30,21.50 Z" fill="#fff"/>
<path d="M622.50,50.50 L624.40,102.50 L624.50,222.50 L624.10,343.50 L622.50,343.50 Z" fill="#fff" opacity="0.85"/>
<rect x="623.20" y="25.00" width="107.00" height="27.60" fill="#000"/>
<text x="629.50" y="46.60" font-size="18.5" letter-spacing="0.15" fill="#fff">FAMA-Cs 2</text>
<rect x="622.50" y="22.50" width="343.80" height="321.00" fill="none" stroke="#2a2a2a" stroke-width="1.6"/>
<path d="M705.40,22.50v-3.5M705.40,343.50v3.5M790.80,22.50v-3.5M790.80,343.50v3.5M876.20,22.50v-3.5M876.20,343.50v3.5M961.60,22.50v-3.5M961.60,343.50v3.5M622.50,331.90h-3.6M966.30,331.90h3.6M622.50,289.20h-3.6M966.30,289.20h3.6M622.50,246.50h-3.6M966.30,246.50h3.6M622.50,203.80h-3.6M966.30,203.80h3.6M622.50,161.10h-3.6M966.30,161.10h3.6M622.50,118.40h-3.6M966.30,118.40h3.6M622.50,75.70h-3.6M966.30,75.70h3.6M622.50,33.00h-3.6M966.30,33.00h3.6" stroke="#2a2a2a" stroke-width="1.5" fill="none"/>
<text x="704.90" y="379.70" font-size="29" text-anchor="middle">–0.2</text>
<text x="790.80" y="379.70" font-size="29" text-anchor="middle">0</text>
<text x="874.30" y="379.70" font-size="29" text-anchor="middle">0.2</text>
<text x="959.70" y="379.70" font-size="29" text-anchor="middle">0.4</text>
<text x="606.50" y="342.20" font-size="29" text-anchor="end">–0.1</text>
<text x="606.50" y="299.50" font-size="29" text-anchor="end">0</text>
<text x="606.50" y="256.80" font-size="29" text-anchor="end">0.1</text>
<text x="606.50" y="214.10" font-size="29" text-anchor="end">0.2</text>
<text x="606.50" y="171.40" font-size="29" text-anchor="end">0.3</text>
<text x="606.50" y="128.70" font-size="29" text-anchor="end">0.4</text>
<text x="606.50" y="86.00" font-size="29" text-anchor="end">0.5</text>
<text x="606.50" y="43.30" font-size="29" text-anchor="end">0.6</text>
<text x="794.20" y="422.80" font-size="29" text-anchor="middle"><tspan font-style="italic">q</tspan><tspan font-size="20" dy="8">r</tspan><tspan dy="-8"> (A</tspan><tspan font-size="20" dy="-12.6">–1</tspan><tspan dy="12.6">)</tspan></text>
<text transform="translate(525.50,181.10) rotate(-90)" font-size="29" text-anchor="middle"><tspan font-style="italic">q</tspan><tspan font-size="20" dy="8">z</tspan><tspan dy="-8"> (A</tspan><tspan font-size="20" dy="-12.6">–1</tspan><tspan dy="12.6">)</tspan></text>
<path d="M232.2,458.2C232.3,458.4 228.0,448.6 232.5,458.8C237.0,469.0 237.7,469.7 245.8,488.9C253.9,508.1 250.5,498.1 256.7,516.4C262.9,534.7 259.0,523.8 264.5,543.9C270.0,564.0 268.3,559.0 273.1,576.8C278.0,594.6 276.2,585.5 279.0,597.3C281.8,609.1 279.4,601.7 281.4,612.3C283.4,622.9 282.5,613.5 285.0,629.0C287.5,644.5 287.1,643.1 288.9,658.7C290.8,674.3 289.5,664.4 290.4,675.7C291.2,687.0 291.1,686.9 291.5,692.5L291.5,692.5C291.9,686.9 291.8,687.0 292.6,675.7C293.5,664.4 292.2,674.3 294.1,658.7C295.9,643.1 295.5,644.5 298.0,629.0C300.5,613.5 299.6,622.9 301.6,612.3C303.6,601.7 301.2,609.1 304.0,597.3C306.8,585.5 305.0,594.6 309.9,576.8C314.7,559.0 313.0,564.0 318.5,543.9C324.0,523.8 320.1,534.7 326.3,516.4C332.5,498.1 329.1,508.1 337.2,488.9C345.3,469.7 346.0,469.0 350.5,458.8C355.0,448.6 350.7,458.4 350.8,458.2Z" fill="#fff"/>
<path d="M291.20,758.10 L293.70,780.50 L289.10,780.50 Z" fill="#fff"/>
<path d="M350.70,458.00 L350.70,458.80 L391.60,460.50 L434.80,464.10 L466.80,467.20 L468.00,467.20 L468.00,458.00 Z" fill="#fff"/>
<path d="M123.20,487.00 L125.10,539.00 L125.20,659.00 L124.80,780.00 L123.20,780.00 Z" fill="#fff" opacity="0.85"/>
<rect x="122.40" y="457.90" width="111.70" height="28.80" fill="#000"/>
<text x="131.40" y="479.80" font-size="18.5" letter-spacing="0.15" fill="#fff">FAMA-Cs 5</text>
<rect x="123.20" y="459.00" width="343.80" height="321.00" fill="none" stroke="#2a2a2a" stroke-width="1.6"/>
<path d="M206.10,459.00v-3.5M206.10,780.00v3.5M291.50,459.00v-3.5M291.50,780.00v3.5M376.90,459.00v-3.5M376.90,780.00v3.5M462.30,459.00v-3.5M462.30,780.00v3.5M123.20,768.40h-3.6M467.00,768.40h3.6M123.20,725.70h-3.6M467.00,725.70h3.6M123.20,683.00h-3.6M467.00,683.00h3.6M123.20,640.30h-3.6M467.00,640.30h3.6M123.20,597.60h-3.6M467.00,597.60h3.6M123.20,554.90h-3.6M467.00,554.90h3.6M123.20,512.20h-3.6M467.00,512.20h3.6M123.20,469.50h-3.6M467.00,469.50h3.6" stroke="#2a2a2a" stroke-width="1.5" fill="none"/>
<text x="205.60" y="815.80" font-size="29" text-anchor="middle">–0.2</text>
<text x="291.50" y="815.80" font-size="29" text-anchor="middle">0</text>
<text x="375.00" y="815.80" font-size="29" text-anchor="middle">0.2</text>
<text x="460.40" y="815.80" font-size="29" text-anchor="middle">0.4</text>
<text x="107.70" y="778.70" font-size="29" text-anchor="end">–0.1</text>
<text x="107.70" y="736.00" font-size="29" text-anchor="end">0</text>
<text x="107.70" y="693.30" font-size="29" text-anchor="end">0.1</text>
<text x="107.70" y="650.60" font-size="29" text-anchor="end">0.2</text>
<text x="107.70" y="607.90" font-size="29" text-anchor="end">0.3</text>
<text x="107.70" y="565.20" font-size="29" text-anchor="end">0.4</text>
<text x="107.70" y="522.50" font-size="29" text-anchor="end">0.5</text>
<text x="107.70" y="479.80" font-size="29" text-anchor="end">0.6</text>
<text x="294.80" y="864.60" font-size="29" text-anchor="middle"><tspan font-style="italic">q</tspan><tspan font-size="20" dy="8">r</tspan><tspan dy="-8"> (A</tspan><tspan font-size="20" dy="-12.6">–1</tspan><tspan dy="12.6">)</tspan></text>
<text transform="translate(28.30,612.90) rotate(-90)" font-size="29" text-anchor="middle"><tspan font-style="italic">q</tspan><tspan font-size="20" dy="8">z</tspan><tspan dy="-8"> (A</tspan><tspan font-size="20" dy="-12.6">–1</tspan><tspan dy="12.6">)</tspan></text>
<path d="M730.8,458.0C730.9,458.2 726.6,448.4 731.1,458.6C735.6,468.8 736.3,469.5 744.4,488.7C752.5,507.9 749.1,497.9 755.3,516.2C761.5,534.5 757.6,523.6 763.1,543.7C768.6,563.8 766.9,558.8 771.8,576.6C776.6,594.4 774.8,585.3 777.6,597.1C780.4,608.9 778.1,601.5 780.1,612.1C782.1,622.7 781.1,613.3 783.6,628.8C786.1,644.3 785.8,642.9 787.6,658.5C789.4,674.1 788.1,664.2 789.0,675.5C789.9,686.8 789.7,686.7 790.1,692.3L790.1,692.3C790.5,686.7 790.4,686.8 791.2,675.5C792.1,664.2 790.9,674.1 792.6,658.5C794.4,642.9 794.1,644.3 796.6,628.8C799.1,613.3 798.1,622.7 800.1,612.1C802.1,601.5 799.8,608.9 802.6,597.1C805.4,585.3 803.6,594.4 808.5,576.6C813.3,558.8 811.6,563.8 817.1,543.7C822.6,523.6 818.7,534.5 824.9,516.2C831.1,497.9 827.7,507.9 835.8,488.7C843.9,469.5 844.6,468.8 849.1,458.6C853.6,448.4 849.3,458.2 849.4,458.0Z" fill="#fff"/>
<path d="M789.80,757.90 L792.30,780.30 L787.70,780.30 Z" fill="#fff"/>
<path d="M849.30,457.80 L849.30,458.60 L890.20,460.30 L933.40,463.90 L965.40,467.00 L966.60,467.00 L966.60,457.80 Z" fill="#fff"/>
<path d="M621.80,486.80 L623.70,538.80 L623.80,658.80 L623.40,779.80 L621.80,779.80 Z" fill="#fff" opacity="0.85"/>
<rect x="622.00" y="458.20" width="128.30" height="27.70" fill="#000"/>
<text x="629.10" y="479.40" font-size="18.5" letter-spacing="0.15" fill="#fff">FAMA-Cs 10</text>
<rect x="621.80" y="458.80" width="343.80" height="321.00" fill="none" stroke="#2a2a2a" stroke-width="1.6"/>
<path d="M704.70,458.80v-3.5M704.70,779.80v3.5M790.10,458.80v-3.5M790.10,779.80v3.5M875.50,458.80v-3.5M875.50,779.80v3.5M960.90,458.80v-3.5M960.90,779.80v3.5M621.80,768.20h-3.6M965.60,768.20h3.6M621.80,725.50h-3.6M965.60,725.50h3.6M621.80,682.80h-3.6M965.60,682.80h3.6M621.80,640.10h-3.6M965.60,640.10h3.6M621.80,597.40h-3.6M965.60,597.40h3.6M621.80,554.70h-3.6M965.60,554.70h3.6M621.80,512.00h-3.6M965.60,512.00h3.6M621.80,469.30h-3.6M965.60,469.30h3.6" stroke="#2a2a2a" stroke-width="1.5" fill="none"/>
<text x="704.20" y="816.70" font-size="29" text-anchor="middle">–0.2</text>
<text x="790.10" y="816.70" font-size="29" text-anchor="middle">0</text>
<text x="873.60" y="816.70" font-size="29" text-anchor="middle">0.2</text>
<text x="959.00" y="816.70" font-size="29" text-anchor="middle">0.4</text>
<text x="606.50" y="778.50" font-size="29" text-anchor="end">–0.1</text>
<text x="606.50" y="735.80" font-size="29" text-anchor="end">0</text>
<text x="606.50" y="693.10" font-size="29" text-anchor="end">0.1</text>
<text x="606.50" y="650.40" font-size="29" text-anchor="end">0.2</text>
<text x="606.50" y="607.70" font-size="29" text-anchor="end">0.3</text>
<text x="606.50" y="565.00" font-size="29" text-anchor="end">0.4</text>
<text x="606.50" y="522.30" font-size="29" text-anchor="end">0.5</text>
<text x="606.50" y="479.60" font-size="29" text-anchor="end">0.6</text>
<text x="793.30" y="864.60" font-size="29" text-anchor="middle"><tspan font-style="italic">q</tspan><tspan font-size="20" dy="8">r</tspan><tspan dy="-8"> (A</tspan><tspan font-size="20" dy="-12.6">–1</tspan><tspan dy="12.6">)</tspan></text>
<text transform="translate(528.50,614.40) rotate(-90)" font-size="29" text-anchor="middle"><tspan font-style="italic">q</tspan><tspan font-size="20" dy="8">z</tspan><tspan dy="-8"> (A</tspan><tspan font-size="20" dy="-12.6">–1</tspan><tspan dy="12.6">)</tspan></text>
<path d="M1169.7,144.5C1172.3,137.9 1172.6,137.0 1177.5,124.7C1182.4,112.4 1178.9,117.9 1184.3,107.6C1189.7,97.3 1189.2,99.5 1193.8,93.8C1198.4,88.1 1193.1,95.5 1198.0,90.4C1202.9,85.3 1201.5,85.8 1208.4,78.4C1215.3,71.0 1211.3,75.3 1218.7,68.1C1226.1,60.9 1223.3,62.6 1230.7,56.9C1238.1,51.2 1234.1,54.2 1241.0,50.9C1247.9,47.6 1245.6,48.1 1251.3,47.1C1257.0,46.1 1254.2,46.0 1258.2,47.8C1262.2,49.6 1259.3,51.6 1263.3,52.6C1267.3,53.6 1264.5,51.4 1270.2,50.9C1275.9,50.4 1273.6,51.8 1280.5,51.2C1287.4,50.6 1283.9,51.6 1290.8,49.2C1297.7,46.8 1296.0,45.7 1301.1,44.0C1306.2,42.3 1302.2,44.6 1306.2,44.0C1310.2,43.4 1309.7,44.3 1313.1,42.3C1316.5,40.3 1313.1,40.6 1316.5,38.0C1319.9,35.4 1318.8,36.3 1323.4,34.6C1328.0,32.9 1325.2,32.6 1330.3,32.9C1335.4,33.2 1335.6,34.4 1338.8,35.5C1342.0,36.6 1335.6,34.3 1340.0,36.3C1344.4,38.3 1344.6,38.6 1352.0,41.5C1359.4,44.4 1354.9,40.3 1362.3,44.9C1369.7,49.5 1366.9,48.3 1374.3,55.2C1381.7,62.1 1377.2,58.1 1384.6,65.5C1392.0,72.9 1388.6,70.9 1396.6,77.5C1404.6,84.1 1400.0,80.1 1408.6,85.2C1417.2,90.3 1413.2,88.0 1422.4,92.9C1431.6,97.8 1427.2,96.0 1436.1,99.8C1445.0,103.6 1439.8,103.4 1449.0,104.4C1458.2,105.4 1455.3,102.8 1463.6,102.7C1471.9,102.6 1466.5,103.1 1473.9,104.1C1481.3,105.1 1478.8,104.7 1485.9,105.8C1493.0,106.9 1489.0,107.6 1495.3,107.5C1501.6,107.4 1497.5,108.1 1504.7,105.5C1511.9,102.9 1508.8,103.4 1516.8,99.8C1524.8,96.2 1520.8,98.4 1528.8,94.7C1536.8,91.0 1533.4,92.6 1540.8,88.6C1548.2,84.6 1544.6,86.6 1551.1,82.6C1557.6,78.6 1553.8,81.4 1560.3,76.6C1566.8,71.8 1563.7,74.4 1570.6,68.1C1577.5,61.8 1574.0,65.0 1580.9,57.8C1587.8,50.6 1584.3,52.4 1591.2,46.6C1598.1,40.8 1594.6,43.2 1601.5,40.3C1608.4,37.4 1605.5,38.8 1611.8,38.0C1618.1,37.2 1614.1,37.0 1620.4,38.0C1626.7,39.0 1622.7,38.9 1630.7,40.9C1638.7,42.9 1637.0,41.5 1644.4,44.0C1651.8,46.5 1646.7,45.1 1653.0,48.3C1659.3,51.5 1656.4,50.9 1663.3,53.5C1670.2,56.1 1667.3,55.4 1673.6,56.0C1679.9,56.6 1675.8,56.9 1682.1,55.2C1688.4,53.5 1685.3,52.3 1692.4,50.9C1699.5,49.5 1694.6,49.8 1703.4,50.9C1712.2,52.0 1708.6,49.2 1718.9,54.3C1729.2,59.4 1725.2,58.0 1734.3,66.3C1743.4,74.6 1737.7,70.0 1746.3,79.2C1754.9,88.4 1752.7,84.9 1760.1,93.8C1767.5,102.7 1762.9,96.1 1768.6,105.8C1774.3,115.5 1771.5,110.7 1777.2,123.0C1782.9,135.3 1782.9,136.1 1785.8,142.7" fill="none" stroke="#8000ff" stroke-width="7.6" stroke-linejoin="round" stroke-linecap="round"/>
<path d="M1169.8,340.1C1170.5,336.4 1170.4,337.0 1172.0,329.1C1173.6,321.2 1172.6,324.5 1174.7,316.3C1176.8,308.1 1175.0,311.7 1178.4,304.4C1181.8,297.1 1182.8,302.5 1184.8,294.3C1186.8,286.1 1183.8,285.8 1184.4,279.7C1185.0,273.6 1183.7,279.7 1186.6,276.0C1189.5,272.3 1189.0,274.5 1193.0,268.7C1197.0,262.9 1194.5,265.9 1198.5,258.6C1202.5,251.3 1200.3,254.0 1204.9,246.7C1209.5,239.4 1207.3,243.4 1212.2,236.7C1217.1,230.0 1215.8,231.2 1219.5,226.6C1223.2,222.0 1221.4,221.4 1223.2,222.9C1225.0,224.4 1222.6,230.0 1225.0,231.2C1227.4,232.4 1225.6,230.6 1230.5,226.6C1235.4,222.6 1233.3,223.3 1239.7,219.3C1246.1,215.3 1243.0,215.9 1249.7,214.7C1256.4,213.5 1253.4,214.1 1259.8,215.6C1266.2,217.1 1262.9,217.0 1269.0,219.3C1275.1,221.6 1271.4,221.1 1278.1,222.6C1284.8,224.1 1281.8,224.1 1289.1,223.9C1296.4,223.7 1292.8,223.5 1300.1,222.0C1307.4,220.5 1303.7,221.4 1311.0,219.3C1318.3,217.2 1314.7,217.6 1322.0,215.6C1329.3,213.6 1326.9,214.3 1333.0,213.4C1339.1,212.5 1335.4,212.2 1340.3,212.9C1345.2,213.6 1342.2,213.5 1347.7,215.6C1353.2,217.7 1349.0,215.3 1356.8,219.3C1364.6,223.3 1362.6,222.6 1371.0,227.5C1379.4,232.4 1375.3,229.3 1382.0,233.9C1388.7,238.5 1383.8,236.0 1391.1,241.2C1398.4,246.4 1394.7,244.0 1403.9,249.5C1413.1,255.0 1408.8,252.2 1418.6,257.7C1428.4,263.2 1424.1,263.1 1433.2,266.0C1442.3,268.9 1437.5,266.8 1446.0,266.5C1454.5,266.2 1449.6,266.4 1458.8,265.0C1468.0,263.6 1464.9,263.0 1473.5,262.3C1482.1,261.6 1477.2,261.9 1484.5,262.8C1491.8,263.7 1488.1,263.8 1495.4,265.0C1502.7,266.2 1499.1,265.9 1506.4,266.5C1513.7,267.1 1510.1,268.0 1517.4,266.9C1524.7,265.8 1520.5,266.3 1528.4,263.2C1536.3,260.1 1532.7,262.0 1541.2,257.7C1549.7,253.4 1546.1,255.9 1554.0,250.4C1561.9,244.9 1559.7,244.9 1565.0,241.2C1570.3,237.5 1564.7,242.7 1570.0,239.4C1575.3,236.1 1573.1,237.0 1581.0,231.2C1588.9,225.4 1585.3,226.6 1593.8,222.0C1602.3,217.4 1598.1,219.6 1606.6,217.5C1615.1,215.4 1610.9,215.9 1619.4,215.6C1627.9,215.3 1623.7,215.1 1632.2,216.5C1640.7,217.9 1635.8,218.1 1645.0,219.8C1654.2,221.5 1650.5,221.8 1659.7,221.7C1668.9,221.6 1664.0,221.6 1672.5,219.6C1681.0,217.6 1676.8,218.5 1685.3,215.6C1693.8,212.7 1690.2,211.9 1698.1,211.0C1706.0,210.1 1701.8,209.5 1709.1,212.9C1716.4,216.3 1713.4,215.0 1720.1,221.1C1726.8,227.2 1722.5,222.7 1729.2,231.2C1735.9,239.7 1732.9,236.0 1740.2,246.7C1747.5,257.4 1744.5,252.8 1751.2,263.2C1757.9,273.6 1753.6,266.8 1760.3,277.8C1767.0,288.8 1765.2,283.9 1771.3,296.1C1777.4,308.3 1774.0,299.8 1778.6,314.5C1783.2,329.2 1782.9,331.6 1785.0,340.1" fill="none" stroke="#800080" stroke-width="7.6" stroke-linejoin="round" stroke-linecap="round"/>
<path d="M1169.5,518.5C1172.1,511.7 1171.4,512.7 1177.2,498.1C1183.0,483.5 1179.9,491.7 1187.0,474.8C1194.1,457.9 1192.1,460.8 1198.6,447.5C1205.1,434.2 1200.6,443.3 1206.4,434.9C1212.2,426.5 1209.6,431.6 1216.1,422.2C1222.6,412.8 1219.4,417.1 1225.9,406.7C1232.4,396.3 1229.8,400.5 1235.6,391.1C1241.4,381.7 1236.9,384.7 1243.4,378.5C1249.9,372.3 1247.2,373.6 1255.0,372.6C1262.8,371.6 1258.9,372.0 1266.7,375.6C1274.5,379.2 1270.6,378.1 1278.4,383.3C1286.2,388.5 1281.6,385.6 1290.0,391.1C1298.4,396.6 1295.3,396.5 1303.7,399.9C1312.1,403.3 1306.2,401.9 1315.3,401.2C1324.4,400.5 1321.8,400.9 1330.9,397.9C1340.0,394.9 1334.8,396.0 1342.6,392.1C1350.4,388.2 1346.4,390.2 1354.2,386.3C1362.0,382.4 1360.7,381.7 1365.9,380.4C1371.1,379.1 1364.5,380.4 1369.7,382.4C1374.9,384.4 1373.6,382.7 1381.4,386.3C1389.2,389.9 1385.3,387.0 1393.1,393.1C1400.9,399.2 1397.6,397.3 1404.7,404.7C1411.8,412.1 1408.0,407.9 1414.5,415.4C1421.0,422.9 1417.1,420.0 1424.2,427.1C1431.3,434.2 1429.4,431.6 1435.9,436.8C1442.4,442.0 1436.5,441.4 1443.6,442.7C1450.7,444.0 1451.1,440.1 1457.3,440.7C1463.5,441.3 1456.9,445.2 1462.1,444.6C1467.3,444.0 1465.3,439.4 1472.8,438.8C1480.3,438.2 1476.7,442.7 1484.5,442.7C1492.3,442.7 1487.8,438.5 1496.2,438.8C1504.6,439.1 1504.0,443.9 1509.8,443.6C1515.6,443.3 1509.8,440.7 1513.7,437.8C1517.6,434.9 1515.6,438.8 1521.4,434.9C1527.2,431.0 1524.7,432.6 1531.2,426.1C1537.7,419.6 1533.1,423.5 1540.9,415.4C1548.7,407.3 1546.1,409.6 1554.5,401.8C1562.9,394.0 1558.4,396.6 1566.2,392.1C1574.0,387.6 1570.0,391.1 1577.8,388.2C1585.6,385.3 1582.4,384.6 1589.5,383.3C1596.6,382.0 1592.1,382.0 1599.2,384.3C1606.3,386.6 1603.0,386.6 1610.8,390.2C1618.6,393.8 1614.7,391.5 1622.5,395.0C1630.3,398.5 1625.8,398.2 1634.2,400.8C1642.6,403.4 1640.7,403.1 1647.8,402.8C1654.9,402.5 1649.1,403.8 1655.6,399.9C1662.1,396.0 1660.2,397.3 1667.3,391.1C1674.4,384.9 1670.5,387.2 1677.0,381.4C1683.5,375.6 1680.9,376.5 1686.7,373.6C1692.5,370.7 1689.3,373.6 1694.5,372.6C1699.7,371.6 1697.1,369.7 1702.3,370.7C1707.5,371.7 1704.2,370.4 1710.0,375.6C1715.8,380.8 1713.9,378.5 1719.8,386.3C1725.7,394.1 1721.8,387.9 1727.6,398.9C1733.4,409.9 1729.5,406.3 1737.3,419.3C1745.1,432.3 1743.1,425.1 1750.9,437.8C1758.7,450.5 1753.5,443.0 1760.6,457.3C1767.7,471.6 1763.9,459.9 1772.3,480.6C1780.7,501.3 1781.4,506.5 1785.9,519.5" fill="none" stroke="#ff0080" stroke-width="7.6" stroke-linejoin="round" stroke-linecap="round"/>
<path d="M1169.5,693.4C1172.1,686.3 1171.4,687.6 1177.2,672.0C1183.0,656.4 1180.5,663.6 1187.0,646.7C1193.5,629.8 1190.9,636.3 1196.7,621.4C1202.5,606.5 1199.3,611.7 1204.5,602.0C1209.7,592.3 1206.4,599.7 1212.2,592.2C1218.0,584.7 1214.9,587.7 1222.0,579.6C1229.1,571.5 1226.5,574.1 1233.6,567.9C1240.7,561.7 1236.3,564.8 1243.4,561.1C1250.5,557.4 1245.9,559.4 1255.0,556.8C1264.1,554.2 1260.2,555.0 1270.6,553.3C1281.0,551.6 1276.5,552.3 1286.2,551.8C1295.9,551.3 1291.4,551.0 1299.8,551.8C1308.2,552.6 1303.6,553.9 1311.4,554.3C1319.2,554.7 1316.0,554.6 1323.1,553.0C1330.2,551.4 1326.3,552.0 1332.8,549.5C1339.3,547.0 1335.5,546.6 1342.6,545.6C1349.7,544.6 1347.7,545.2 1354.2,546.5C1360.7,547.8 1356.8,547.2 1362.0,549.5C1367.2,551.8 1363.2,549.8 1369.7,553.3C1376.2,556.8 1373.6,554.3 1381.4,560.1C1389.2,565.9 1385.3,563.3 1393.1,570.8C1400.9,578.3 1396.9,574.4 1404.7,582.5C1412.5,590.6 1408.6,586.8 1416.4,595.2C1424.2,603.6 1420.3,600.0 1428.1,607.8C1435.9,615.6 1432.7,612.1 1439.8,618.5C1446.9,624.9 1441.7,622.7 1449.5,626.9C1457.3,631.1 1454.0,628.9 1463.1,631.1C1472.2,633.3 1467.6,633.2 1476.7,633.5C1485.8,633.8 1482.5,634.2 1490.3,632.1C1498.1,630.0 1492.2,631.5 1500.0,627.3C1507.8,623.1 1505.3,625.7 1513.7,619.5C1522.1,613.3 1518.2,616.3 1525.3,608.8C1532.4,601.3 1528.0,605.9 1535.1,597.1C1542.2,588.3 1538.3,590.9 1546.7,582.5C1555.1,574.1 1552.6,579.3 1560.4,571.8C1568.2,564.3 1564.3,565.9 1570.1,560.1C1575.9,554.3 1572.0,557.5 1577.8,554.3C1583.6,551.1 1581.7,553.2 1587.5,550.4C1593.3,547.6 1590.4,546.3 1595.3,546.0C1600.2,545.7 1596.9,549.3 1602.1,549.5C1607.3,549.7 1604.0,548.5 1610.8,546.5C1617.6,544.5 1614.1,543.8 1622.5,543.6C1630.9,543.4 1627.7,542.8 1636.1,546.0C1644.5,549.2 1640.0,551.8 1647.8,553.3C1655.6,554.8 1651.7,552.7 1659.5,550.4C1667.3,548.1 1663.3,547.5 1671.1,546.5C1678.9,545.5 1675.0,545.5 1682.8,547.5C1690.6,549.5 1686.7,548.8 1694.5,552.4C1702.3,556.0 1698.4,553.3 1706.2,558.2C1714.0,563.1 1709.4,560.2 1717.8,567.0C1726.2,573.8 1723.6,570.5 1731.4,578.6C1739.2,586.7 1734.7,582.9 1741.2,591.3C1747.7,599.7 1745.1,593.2 1750.9,603.9C1756.7,614.6 1752.9,609.1 1758.7,623.4C1764.5,637.7 1761.9,630.5 1768.4,646.7C1774.9,662.9 1772.3,655.8 1778.1,672.0C1783.9,688.2 1783.3,687.5 1785.9,695.3" fill="none" stroke="#000000" stroke-width="7.6" stroke-linejoin="round" stroke-linecap="round"/>
<path d="M1497.0,155.0H1571.1" stroke="#8000ff" stroke-width="7.6" stroke-linecap="round"/>
<text x="1584.7" y="164.0" font-size="24" letter-spacing="0.6">FAMACs</text>
<path d="M1499.0,318.7H1572.4" stroke="#800080" stroke-width="7.6" stroke-linecap="round"/>
<text x="1586.7" y="327.0" font-size="24" letter-spacing="0.6">FAMACs2</text>
<path d="M1495.7,487.7H1571.1" stroke="#ff0080" stroke-width="7.6" stroke-linecap="round"/>
<text x="1586.0" y="495.6" font-size="24" letter-spacing="0.6">FAMACs5</text>
<path d="M1495.0,656.7H1568.4" stroke="#000000" stroke-width="7.6" stroke-linecap="round"/>
<text x="1582.7" y="664.0" font-size="24" letter-spacing="0.6">FAMACs10</text>
<polyline points="1328.74,31.6 1339.1,197.6 1371.2,388.0 1349.5,541.3" fill="none" stroke="#ff0000" stroke-width="7.8" stroke-linecap="round" stroke-linejoin="round" stroke-dasharray="22 17.35 0.01 17.35" stroke-dashoffset="2.35"/>
<rect x="1138.5" y="18.6" width="678.0" height="682.0" fill="none" stroke="#000" stroke-width="4.2" stroke-linejoin="round"/>
<path d="M1138.5,189.1H1816.5" stroke="#000" stroke-width="4.2"/>
<path d="M1138.5,359.6H1816.5" stroke="#000" stroke-width="4.2"/>
<path d="M1138.5,530.1H1816.5" stroke="#000" stroke-width="4.2"/>
<path d="M1156.7,189.1v-12.5M1263.7,189.1v-12.5M1370.7,189.1v-12.5M1477.7,189.1v-12.5M1584.7,189.1v-12.5M1691.8,189.1v-12.5M1798.8,189.1v-12.5M1138.5,149.3H1127.2M1138.5,97.0H1127.2M1138.5,44.8H1127.2M1156.7,359.6v-12.5M1263.7,359.6v-12.5M1370.7,359.6v-12.5M1477.7,359.6v-12.5M1584.7,359.6v-12.5M1691.8,359.6v-12.5M1798.8,359.6v-12.5M1138.5,319.8H1127.2M1138.5,267.5H1127.2M1138.5,215.2H1127.2M1156.7,530.1v-12.5M1263.7,530.1v-12.5M1370.7,530.1v-12.5M1477.7,530.1v-12.5M1584.7,530.1v-12.5M1691.8,530.1v-12.5M1798.8,530.1v-12.5M1138.5,490.4H1127.2M1138.5,438.1H1127.2M1138.5,385.8H1127.2M1156.7,700.6v-12.5M1263.7,700.6v-12.5M1370.7,700.6v-12.5M1477.7,700.6v-12.5M1584.7,700.6v-12.5M1691.8,700.6v-12.5M1798.8,700.6v-12.5M1138.5,660.9H1127.2M1138.5,608.5H1127.2M1138.5,556.2H1127.2" stroke="#000" stroke-width="4.4" stroke-linecap="round" fill="none"/>
<text x="1112.5" y="158.7" font-size="29" text-anchor="end">0.4</text>
<text x="1112.5" y="106.4" font-size="29" text-anchor="end">0.8</text>
<text x="1112.5" y="54.1" font-size="29" text-anchor="end">1.2</text>
<text x="1112.5" y="329.2" font-size="29" text-anchor="end">0.4</text>
<text x="1112.5" y="276.9" font-size="29" text-anchor="end">0.8</text>
<text x="1112.5" y="224.7" font-size="29" text-anchor="end">1.2</text>
<text x="1112.5" y="499.8" font-size="29" text-anchor="end">0.4</text>
<text x="1112.5" y="447.4" font-size="29" text-anchor="end">0.8</text>
<text x="1112.5" y="395.1" font-size="29" text-anchor="end">1.2</text>
<text x="1112.5" y="670.2" font-size="29" text-anchor="end">0.4</text>
<text x="1112.5" y="617.9" font-size="29" text-anchor="end">0.8</text>
<text x="1112.5" y="565.6" font-size="29" text-anchor="end">1.2</text>
<text x="1156.7" y="735.5" font-size="29" text-anchor="middle">0</text>
<text x="1263.7" y="735.5" font-size="29" text-anchor="middle">30</text>
<text x="1370.7" y="735.5" font-size="29" text-anchor="middle">60</text>
<text x="1477.7" y="735.5" font-size="29" text-anchor="middle">90</text>
<text x="1584.7" y="735.5" font-size="29" text-anchor="middle">120</text>
<text x="1691.8" y="735.5" font-size="29" text-anchor="middle">150</text>
<text x="1798.8" y="735.5" font-size="29" text-anchor="middle">180</text>
<text x="1477.5" y="783" font-size="29" text-anchor="middle">Azimuth (°)</text>
<text transform="translate(1046.8,371) rotate(-90)" font-size="29.25" text-anchor="middle">Normalized diffraction intensity (a.u.)</text>
<text x="1021.6" y="29.3" font-size="40" font-weight="bold">b</text>
<text x="0.4" y="29.4" font-size="40" font-weight="bold">a</text>
</svg></body></html>
